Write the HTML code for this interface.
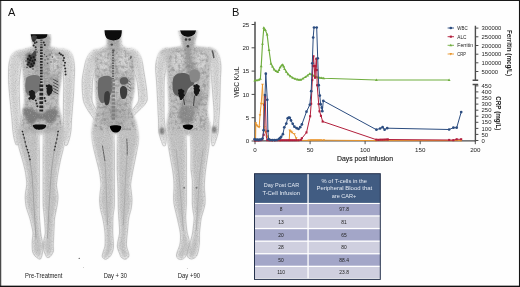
<!DOCTYPE html>
<html><head><meta charset="utf-8"><title>Figure</title>
<style>
html,body{margin:0;padding:0;background:#fff;}
body{width:520px;height:287px;overflow:hidden;font-family:"Liberation Sans",sans-serif;}
svg{display:block;}
text{font-family:"Liberation Sans",sans-serif;}
</style></head><body>
<svg width="520" height="287" viewBox="0 0 520 287">
<rect x="0" y="0" width="520" height="287" fill="#fefefe"/>
<defs>
<filter id="bl06" filterUnits="userSpaceOnUse" x="0" y="0" width="230" height="287"><feGaussianBlur stdDeviation="0.6"/></filter>
<filter id="bl1" filterUnits="userSpaceOnUse" x="0" y="0" width="230" height="287"><feGaussianBlur stdDeviation="1.0"/></filter>
<filter id="bl03" filterUnits="userSpaceOnUse" x="0" y="0" width="230" height="287"><feGaussianBlur stdDeviation="0.3"/></filter>
<filter id="bl08" filterUnits="userSpaceOnUse" x="0" y="0" width="230" height="287"><feGaussianBlur stdDeviation="0.8"/></filter>
<filter id="bl04" filterUnits="userSpaceOnUse" x="0" y="0" width="230" height="287"><feGaussianBlur stdDeviation="0.4"/></filter>
<filter id="bl2" filterUnits="userSpaceOnUse" x="0" y="0" width="230" height="287"><feGaussianBlur stdDeviation="1.8"/></filter>
<filter id="grain" x="0" y="0" width="100%" height="100%" filterUnits="objectBoundingBox">
 <feTurbulence type="fractalNoise" baseFrequency="0.85" numOctaves="2" seed="7" result="n"/>
 <feColorMatrix in="n" type="matrix" values="0 0 0 0 0.25  0 0 0 0 0.25  0 0 0 0 0.25  2.6 0 0 0 -1.15" result="dk"/>
 <feColorMatrix in="n" type="matrix" values="0 0 0 0 1  0 0 0 0 1  0 0 0 0 1  0 -2.6 0 0 1.1" result="lt"/>
 <feMerge><feMergeNode in="dk"/><feMergeNode in="lt"/></feMerge>
</filter>
<filter id="ero" filterUnits="userSpaceOnUse" x="0" y="0" width="230" height="287"><feMorphology operator="erode" radius="1.1"/><feGaussianBlur stdDeviation="0.9"/></filter>
<filter id="mott" x="0" y="0" width="100%" height="100%">
 <feTurbulence type="fractalNoise" baseFrequency="0.32" numOctaves="2" seed="11" result="n"/>
 <feColorMatrix in="n" type="matrix" values="0 0 0 0 0.2  0 0 0 0 0.2  0 0 0 0 0.2  3.2 0 0 0 -1.45"/>
</filter>
<filter id="ero2" filterUnits="userSpaceOnUse" x="0" y="0" width="230" height="287"><feMorphology operator="erode" radius="2.3"/><feGaussianBlur stdDeviation="1.3"/></filter>
<linearGradient id="lowg" gradientUnits="userSpaceOnUse" x1="0" y1="128" x2="0" y2="152"><stop offset="0" stop-color="#000"/><stop offset="1" stop-color="#fff"/></linearGradient>
<linearGradient id="armg" gradientUnits="userSpaceOnUse" x1="0" y1="52" x2="0" y2="64"><stop offset="0" stop-color="#000"/><stop offset="1" stop-color="#fff"/></linearGradient>
<mask id="armmask" maskUnits="userSpaceOnUse" x="0" y="28" width="230" height="200"><rect x="0" y="28" width="230" height="200" fill="url(#armg)"/></mask>
<mask id="lowmask" maskUnits="userSpaceOnUse" x="0" y="100" width="230" height="187"><rect x="0" y="100" width="230" height="187" fill="url(#lowg)"/></mask>
<clipPath id="cropA"><rect x="2" y="30.2" width="224" height="240"/></clipPath>
</defs>
<clipPath id="bc1"><path d="M31,28C31,29.3 30.9,33.7 31,36C31.1,38.3 31.5,40.4 31.8,42C32.1,43.6 33.2,44.6 32.6,45.5C32,46.4 29.8,46.9 28,47.5C26.2,48.1 23.9,48.6 22,49.3C20.1,50 17.8,50.4 16.5,51.5C15.2,52.6 13.9,54.1 14.5,56C15.1,57.9 18.8,60.7 20,63C21.2,65.3 21.5,67.2 22,70C22.5,72.8 22.8,76.7 23,80C23.2,83.3 23.3,86.7 23.5,90C23.7,93.3 24.1,97 24,100C23.9,103 23.3,105.3 22.7,108C22.1,110.7 21.1,113.3 20.6,116C20.1,118.7 19.4,121.7 19.5,124C19.6,126.3 20.1,128.3 21,130C21.9,131.7 24.3,133.3 25,134Q41.5,135.6 58,134C58.7,133.3 61,131.7 62,130C63,128.3 63.7,126.3 63.7,124C63.7,121.7 62.7,118.7 62,116C61.3,113.3 60.2,110.7 59.7,108C59.2,105.3 58.8,103 58.8,100C58.8,97 59.5,93.3 60,90C60.5,86.7 61.2,83.3 61.8,80C62.4,76.7 63,72.8 63.5,70C64,67.2 63.9,65.3 65,63C66.1,60.7 69.5,57.9 70,56C70.5,54.1 69.2,52.6 68,51.5C66.8,50.4 65,50 63,49.3C61,48.6 58.1,48.1 56,47.5C53.9,46.9 51.1,46.4 50.2,45.5C49.3,44.6 50.7,43.6 50.8,42C50.9,40.4 51.2,38.3 51,36C50.8,33.7 49.8,29.3 49.5,28Q40.2,26.4 31,28Z"/><path d="M17,50.5C16.4,50.8 14.3,51.6 13.3,52.5C12.3,53.4 11.5,54.4 10.8,56C10.1,57.6 9.7,59.7 9.3,62C8.9,64.3 8.7,66.5 8.6,70C8.5,73.5 8.5,78.8 8.7,83C8.9,87.2 9.2,90.5 9.6,95C10,99.5 10.6,105.8 11,110C11.4,114.2 11.7,116.7 12,120C12.3,123.3 12.5,127 12.8,130C13.1,133 13.5,135.6 14,138C14.5,140.4 15.5,143.4 15.8,144.5Q17,145.3 18.2,144.5C18.6,143.4 20.1,140.4 20.6,138C21.1,135.6 21,133 21,130C21,127 20.6,123.3 20.4,120C20.2,116.7 20.1,114.2 19.9,110C19.7,105.8 19.4,99.5 19.3,95C19.2,90.5 19.1,87.2 19.3,83C19.5,78.8 20.1,73.5 20.6,70C21.1,66.5 21.9,64.3 22.3,62C22.7,59.7 22.9,57.6 23,56C23.1,54.4 23,53.4 23,52.5C23,51.6 23,50.8 23,50.5Q20,48.9 17,50.5Z"/><path d="M60,49C60,49.3 59.9,50 60,51C60.1,52 60.2,53.2 60.5,55C60.8,56.8 61.1,59.5 61.5,62C61.9,64.5 62.6,66.5 63,70C63.4,73.5 63.6,78.8 63.7,83C63.8,87.2 63.7,90.5 63.6,95C63.5,99.5 63.4,105.8 63.4,110C63.4,114.2 63.4,116.7 63.4,120C63.4,123.3 63.6,127 63.6,130C63.6,133 63,135.5 63.2,138C63.4,140.5 64.5,143.8 64.8,145Q66,145.9 67.3,145C67.7,143.8 69,140.5 69.6,138C70.2,135.5 70.7,133 71,130C71.3,127 71.3,123.3 71.5,120C71.7,116.7 72,114.2 72.3,110C72.6,105.8 73.2,99.5 73.5,95C73.8,90.5 73.8,87.2 74,83C74.2,78.8 74.6,73.5 74.6,70C74.6,66.5 74.3,64.5 74,62C73.7,59.5 73.3,56.8 72.6,55C71.9,53.2 71.1,52 70,51C68.9,50 66.7,49.3 66,49Q63,47.4 60,49Z"/><path d="M19,122C18.5,123.3 16.1,127 15.8,130C15.5,133 16.4,136.7 17,140C17.6,143.3 18.7,146.7 19.6,150C20.5,153.3 21.6,156.7 22.5,160C23.4,163.3 24.3,166.7 25,170C25.7,173.3 26.2,177.3 26.5,180C26.8,182.7 26.8,184 26.6,186C26.5,188 25.8,190 25.6,192C25.4,194 25.1,195.7 25.2,198C25.3,200.3 25.6,203.7 26,206C26.4,208.3 27.2,210 27.8,212C28.4,214 29.2,215.8 29.8,218C30.4,220.2 31,222.5 31.5,225C32,227.5 32.9,230.5 33,233C33.1,235.5 32.4,237.8 32.3,240C32.2,242.2 32.1,244 32.2,246C32.3,248 32.2,250.3 32.7,252C33.2,253.7 34,254.9 35,256C36,257.1 38,258.3 38.6,258.8Q39.7,259.5 40.7,258.8C40.9,258.3 41.5,257.1 41.8,256C42.1,254.9 42.4,253.7 42.6,252C42.8,250.3 42.9,248 42.8,246C42.7,244 42.4,242.2 42,240C41.6,237.8 41,235.5 40.7,233C40.4,230.5 40.2,227.5 40,225C39.8,222.5 39.6,220.2 39.5,218C39.4,215.8 39.3,214 39.3,212C39.3,210 39.3,208.3 39.3,206C39.3,203.7 39.3,200.3 39.3,198C39.3,195.7 39.3,194 39.3,192C39.3,190 39.3,188 39.3,186C39.3,184 39.3,182.7 39.3,180C39.3,177.3 39.3,173.3 39.3,170C39.3,166.7 39.3,163.3 39.3,160C39.3,156.7 39.3,153.3 39.3,150C39.3,146.7 39.1,143.3 39.3,140C39.4,136.7 40.1,133 40.2,130C40.4,127 40.2,123.3 40.2,122Q29.6,120.4 19,122Z"/><path d="M42.6,122C42.6,123.3 42.5,127 42.6,130C42.7,133 43,136.7 43.1,140C43.2,143.3 43.1,146.7 43.1,150C43.1,153.3 43.1,156.7 43.1,160C43.1,163.3 43.1,166.7 43.1,170C43.1,173.3 43.1,177.3 43.1,180C43.1,182.7 43.1,184 43.1,186C43.1,188 43.1,190 43.1,192C43.1,194 43.1,195.7 43.1,198C43.1,200.3 43.1,203.7 43.2,206C43.3,208.3 43.6,210 43.8,212C44,214 44.2,215.8 44.4,218C44.6,220.2 44.8,222.5 44.9,225C45,227.5 45.5,230.5 45.3,233C45.1,235.5 44.2,237.8 43.9,240C43.6,242.2 43.4,244.2 43.4,246C43.4,247.8 43.6,249.5 44,251C44.4,252.5 45.1,253.9 45.6,255C46.1,256.1 46.6,256.9 46.8,257.3Q48,258.1 49.2,257.3C49.6,256.9 50.8,256.1 51.5,255C52.2,253.9 53.2,252.5 53.5,251C53.8,249.5 53.2,247.8 53.2,246C53.2,244.2 53.4,242.2 53.5,240C53.6,237.8 53.7,235.5 53.8,233C53.9,230.5 54.1,227.5 54.2,225C54.3,222.5 54.3,220.2 54.6,218C54.9,215.8 55.4,214 55.8,212C56.2,210 56.6,208.3 57,206C57.4,203.7 57.9,200.3 58,198C58.1,195.7 57.8,194 57.5,192C57.2,190 56.6,188 56.5,186C56.4,184 56.7,182.7 57,180C57.3,177.3 57.9,173.3 58.5,170C59.1,166.7 59.8,163.3 60.5,160C61.2,156.7 62.2,153.3 63,150C63.8,146.7 64.5,143.3 65,140C65.5,136.7 66.5,133 66.3,130C66.1,127 64.4,123.3 64,122Q53.3,120.4 42.6,122Z"/></clipPath>
<clipPath id="crop1"><rect x="0" y="34.2" width="230" height="250"/></clipPath>
<g clip-path="url(#crop1)">
<g filter="url(#bl08)"><path d="M31,28C31,29.3 30.9,33.7 31,36C31.1,38.3 31.5,40.4 31.8,42C32.1,43.6 33.2,44.6 32.6,45.5C32,46.4 29.8,46.9 28,47.5C26.2,48.1 23.9,48.6 22,49.3C20.1,50 17.8,50.4 16.5,51.5C15.2,52.6 13.9,54.1 14.5,56C15.1,57.9 18.8,60.7 20,63C21.2,65.3 21.5,67.2 22,70C22.5,72.8 22.8,76.7 23,80C23.2,83.3 23.3,86.7 23.5,90C23.7,93.3 24.1,97 24,100C23.9,103 23.3,105.3 22.7,108C22.1,110.7 21.1,113.3 20.6,116C20.1,118.7 19.4,121.7 19.5,124C19.6,126.3 20.1,128.3 21,130C21.9,131.7 24.3,133.3 25,134Q41.5,135.6 58,134C58.7,133.3 61,131.7 62,130C63,128.3 63.7,126.3 63.7,124C63.7,121.7 62.7,118.7 62,116C61.3,113.3 60.2,110.7 59.7,108C59.2,105.3 58.8,103 58.8,100C58.8,97 59.5,93.3 60,90C60.5,86.7 61.2,83.3 61.8,80C62.4,76.7 63,72.8 63.5,70C64,67.2 63.9,65.3 65,63C66.1,60.7 69.5,57.9 70,56C70.5,54.1 69.2,52.6 68,51.5C66.8,50.4 65,50 63,49.3C61,48.6 58.1,48.1 56,47.5C53.9,46.9 51.1,46.4 50.2,45.5C49.3,44.6 50.7,43.6 50.8,42C50.9,40.4 51.2,38.3 51,36C50.8,33.7 49.8,29.3 49.5,28Q40.2,26.4 31,28Z" fill="#e6e6e6" /><path d="M19,122C18.5,123.3 16.1,127 15.8,130C15.5,133 16.4,136.7 17,140C17.6,143.3 18.7,146.7 19.6,150C20.5,153.3 21.6,156.7 22.5,160C23.4,163.3 24.3,166.7 25,170C25.7,173.3 26.2,177.3 26.5,180C26.8,182.7 26.8,184 26.6,186C26.5,188 25.8,190 25.6,192C25.4,194 25.1,195.7 25.2,198C25.3,200.3 25.6,203.7 26,206C26.4,208.3 27.2,210 27.8,212C28.4,214 29.2,215.8 29.8,218C30.4,220.2 31,222.5 31.5,225C32,227.5 32.9,230.5 33,233C33.1,235.5 32.4,237.8 32.3,240C32.2,242.2 32.1,244 32.2,246C32.3,248 32.2,250.3 32.7,252C33.2,253.7 34,254.9 35,256C36,257.1 38,258.3 38.6,258.8Q39.7,259.5 40.7,258.8C40.9,258.3 41.5,257.1 41.8,256C42.1,254.9 42.4,253.7 42.6,252C42.8,250.3 42.9,248 42.8,246C42.7,244 42.4,242.2 42,240C41.6,237.8 41,235.5 40.7,233C40.4,230.5 40.2,227.5 40,225C39.8,222.5 39.6,220.2 39.5,218C39.4,215.8 39.3,214 39.3,212C39.3,210 39.3,208.3 39.3,206C39.3,203.7 39.3,200.3 39.3,198C39.3,195.7 39.3,194 39.3,192C39.3,190 39.3,188 39.3,186C39.3,184 39.3,182.7 39.3,180C39.3,177.3 39.3,173.3 39.3,170C39.3,166.7 39.3,163.3 39.3,160C39.3,156.7 39.3,153.3 39.3,150C39.3,146.7 39.1,143.3 39.3,140C39.4,136.7 40.1,133 40.2,130C40.4,127 40.2,123.3 40.2,122Q29.6,120.4 19,122Z" fill="#e6e6e6" /><path d="M42.6,122C42.6,123.3 42.5,127 42.6,130C42.7,133 43,136.7 43.1,140C43.2,143.3 43.1,146.7 43.1,150C43.1,153.3 43.1,156.7 43.1,160C43.1,163.3 43.1,166.7 43.1,170C43.1,173.3 43.1,177.3 43.1,180C43.1,182.7 43.1,184 43.1,186C43.1,188 43.1,190 43.1,192C43.1,194 43.1,195.7 43.1,198C43.1,200.3 43.1,203.7 43.2,206C43.3,208.3 43.6,210 43.8,212C44,214 44.2,215.8 44.4,218C44.6,220.2 44.8,222.5 44.9,225C45,227.5 45.5,230.5 45.3,233C45.1,235.5 44.2,237.8 43.9,240C43.6,242.2 43.4,244.2 43.4,246C43.4,247.8 43.6,249.5 44,251C44.4,252.5 45.1,253.9 45.6,255C46.1,256.1 46.6,256.9 46.8,257.3Q48,258.1 49.2,257.3C49.6,256.9 50.8,256.1 51.5,255C52.2,253.9 53.2,252.5 53.5,251C53.8,249.5 53.2,247.8 53.2,246C53.2,244.2 53.4,242.2 53.5,240C53.6,237.8 53.7,235.5 53.8,233C53.9,230.5 54.1,227.5 54.2,225C54.3,222.5 54.3,220.2 54.6,218C54.9,215.8 55.4,214 55.8,212C56.2,210 56.6,208.3 57,206C57.4,203.7 57.9,200.3 58,198C58.1,195.7 57.8,194 57.5,192C57.2,190 56.6,188 56.5,186C56.4,184 56.7,182.7 57,180C57.3,177.3 57.9,173.3 58.5,170C59.1,166.7 59.8,163.3 60.5,160C61.2,156.7 62.2,153.3 63,150C63.8,146.7 64.5,143.3 65,140C65.5,136.7 66.5,133 66.3,130C66.1,127 64.4,123.3 64,122Q53.3,120.4 42.6,122Z" fill="#e6e6e6" /></g>
<g filter="url(#bl1)"><path d="M17,50.5C16.4,50.8 14.3,51.6 13.3,52.5C12.3,53.4 11.5,54.4 10.8,56C10.1,57.6 9.7,59.7 9.3,62C8.9,64.3 8.7,66.5 8.6,70C8.5,73.5 8.5,78.8 8.7,83C8.9,87.2 9.2,90.5 9.6,95C10,99.5 10.6,105.8 11,110C11.4,114.2 11.7,116.7 12,120C12.3,123.3 12.5,127 12.8,130C13.1,133 13.5,135.6 14,138C14.5,140.4 15.5,143.4 15.8,144.5Q17,145.3 18.2,144.5C18.6,143.4 20.1,140.4 20.6,138C21.1,135.6 21,133 21,130C21,127 20.6,123.3 20.4,120C20.2,116.7 20.1,114.2 19.9,110C19.7,105.8 19.4,99.5 19.3,95C19.2,90.5 19.1,87.2 19.3,83C19.5,78.8 20.1,73.5 20.6,70C21.1,66.5 21.9,64.3 22.3,62C22.7,59.7 22.9,57.6 23,56C23.1,54.4 23,53.4 23,52.5C23,51.6 23,50.8 23,50.5Q20,48.9 17,50.5Z" fill="#e6e6e6" /><path d="M60,49C60,49.3 59.9,50 60,51C60.1,52 60.2,53.2 60.5,55C60.8,56.8 61.1,59.5 61.5,62C61.9,64.5 62.6,66.5 63,70C63.4,73.5 63.6,78.8 63.7,83C63.8,87.2 63.7,90.5 63.6,95C63.5,99.5 63.4,105.8 63.4,110C63.4,114.2 63.4,116.7 63.4,120C63.4,123.3 63.6,127 63.6,130C63.6,133 63,135.5 63.2,138C63.4,140.5 64.5,143.8 64.8,145Q66,145.9 67.3,145C67.7,143.8 69,140.5 69.6,138C70.2,135.5 70.7,133 71,130C71.3,127 71.3,123.3 71.5,120C71.7,116.7 72,114.2 72.3,110C72.6,105.8 73.2,99.5 73.5,95C73.8,90.5 73.8,87.2 74,83C74.2,78.8 74.6,73.5 74.6,70C74.6,66.5 74.3,64.5 74,62C73.7,59.5 73.3,56.8 72.6,55C71.9,53.2 71.1,52 70,51C68.9,50 66.7,49.3 66,49Q63,47.4 60,49Z" fill="#e6e6e6" /></g>
<g filter="url(#ero)"><path d="M17,50.5C16.4,50.8 14.3,51.6 13.3,52.5C12.3,53.4 11.5,54.4 10.8,56C10.1,57.6 9.7,59.7 9.3,62C8.9,64.3 8.7,66.5 8.6,70C8.5,73.5 8.5,78.8 8.7,83C8.9,87.2 9.2,90.5 9.6,95C10,99.5 10.6,105.8 11,110C11.4,114.2 11.7,116.7 12,120C12.3,123.3 12.5,127 12.8,130C13.1,133 13.5,135.6 14,138C14.5,140.4 15.5,143.4 15.8,144.5Q17,145.3 18.2,144.5C18.6,143.4 20.1,140.4 20.6,138C21.1,135.6 21,133 21,130C21,127 20.6,123.3 20.4,120C20.2,116.7 20.1,114.2 19.9,110C19.7,105.8 19.4,99.5 19.3,95C19.2,90.5 19.1,87.2 19.3,83C19.5,78.8 20.1,73.5 20.6,70C21.1,66.5 21.9,64.3 22.3,62C22.7,59.7 22.9,57.6 23,56C23.1,54.4 23,53.4 23,52.5C23,51.6 23,50.8 23,50.5Q20,48.9 17,50.5Z" fill="#dcdcdc" /><path d="M60,49C60,49.3 59.9,50 60,51C60.1,52 60.2,53.2 60.5,55C60.8,56.8 61.1,59.5 61.5,62C61.9,64.5 62.6,66.5 63,70C63.4,73.5 63.6,78.8 63.7,83C63.8,87.2 63.7,90.5 63.6,95C63.5,99.5 63.4,105.8 63.4,110C63.4,114.2 63.4,116.7 63.4,120C63.4,123.3 63.6,127 63.6,130C63.6,133 63,135.5 63.2,138C63.4,140.5 64.5,143.8 64.8,145Q66,145.9 67.3,145C67.7,143.8 69,140.5 69.6,138C70.2,135.5 70.7,133 71,130C71.3,127 71.3,123.3 71.5,120C71.7,116.7 72,114.2 72.3,110C72.6,105.8 73.2,99.5 73.5,95C73.8,90.5 73.8,87.2 74,83C74.2,78.8 74.6,73.5 74.6,70C74.6,66.5 74.3,64.5 74,62C73.7,59.5 73.3,56.8 72.6,55C71.9,53.2 71.1,52 70,51C68.9,50 66.7,49.3 66,49Q63,47.4 60,49Z" fill="#dcdcdc" /></g>
<g filter="url(#ero2)"><path d="M17,50.5C16.4,50.8 14.3,51.6 13.3,52.5C12.3,53.4 11.5,54.4 10.8,56C10.1,57.6 9.7,59.7 9.3,62C8.9,64.3 8.7,66.5 8.6,70C8.5,73.5 8.5,78.8 8.7,83C8.9,87.2 9.2,90.5 9.6,95C10,99.5 10.6,105.8 11,110C11.4,114.2 11.7,116.7 12,120C12.3,123.3 12.5,127 12.8,130C13.1,133 13.5,135.6 14,138C14.5,140.4 15.5,143.4 15.8,144.5Q17,145.3 18.2,144.5C18.6,143.4 20.1,140.4 20.6,138C21.1,135.6 21,133 21,130C21,127 20.6,123.3 20.4,120C20.2,116.7 20.1,114.2 19.9,110C19.7,105.8 19.4,99.5 19.3,95C19.2,90.5 19.1,87.2 19.3,83C19.5,78.8 20.1,73.5 20.6,70C21.1,66.5 21.9,64.3 22.3,62C22.7,59.7 22.9,57.6 23,56C23.1,54.4 23,53.4 23,52.5C23,51.6 23,50.8 23,50.5Q20,48.9 17,50.5Z" fill="#d2d2d2" /><path d="M60,49C60,49.3 59.9,50 60,51C60.1,52 60.2,53.2 60.5,55C60.8,56.8 61.1,59.5 61.5,62C61.9,64.5 62.6,66.5 63,70C63.4,73.5 63.6,78.8 63.7,83C63.8,87.2 63.7,90.5 63.6,95C63.5,99.5 63.4,105.8 63.4,110C63.4,114.2 63.4,116.7 63.4,120C63.4,123.3 63.6,127 63.6,130C63.6,133 63,135.5 63.2,138C63.4,140.5 64.5,143.8 64.8,145Q66,145.9 67.3,145C67.7,143.8 69,140.5 69.6,138C70.2,135.5 70.7,133 71,130C71.3,127 71.3,123.3 71.5,120C71.7,116.7 72,114.2 72.3,110C72.6,105.8 73.2,99.5 73.5,95C73.8,90.5 73.8,87.2 74,83C74.2,78.8 74.6,73.5 74.6,70C74.6,66.5 74.3,64.5 74,62C73.7,59.5 73.3,56.8 72.6,55C71.9,53.2 71.1,52 70,51C68.9,50 66.7,49.3 66,49Q63,47.4 60,49Z" fill="#d2d2d2" /></g>
<g mask="url(#armmask)"><g filter="url(#bl06)" fill="none" stroke="#bcbcbc" stroke-width="0.8"><path d="M17,50.5C16.4,50.8 14.3,51.6 13.3,52.5C12.3,53.4 11.5,54.4 10.8,56C10.1,57.6 9.7,59.7 9.3,62C8.9,64.3 8.7,66.5 8.6,70C8.5,73.5 8.5,78.8 8.7,83C8.9,87.2 9.2,90.5 9.6,95C10,99.5 10.6,105.8 11,110C11.4,114.2 11.7,116.7 12,120C12.3,123.3 12.5,127 12.8,130C13.1,133 13.5,135.6 14,138C14.5,140.4 15.5,143.4 15.8,144.5Q17,145.3 18.2,144.5C18.6,143.4 20.1,140.4 20.6,138C21.1,135.6 21,133 21,130C21,127 20.6,123.3 20.4,120C20.2,116.7 20.1,114.2 19.9,110C19.7,105.8 19.4,99.5 19.3,95C19.2,90.5 19.1,87.2 19.3,83C19.5,78.8 20.1,73.5 20.6,70C21.1,66.5 21.9,64.3 22.3,62C22.7,59.7 22.9,57.6 23,56C23.1,54.4 23,53.4 23,52.5C23,51.6 23,50.8 23,50.5Q20,48.9 17,50.5Z"/><path d="M60,49C60,49.3 59.9,50 60,51C60.1,52 60.2,53.2 60.5,55C60.8,56.8 61.1,59.5 61.5,62C61.9,64.5 62.6,66.5 63,70C63.4,73.5 63.6,78.8 63.7,83C63.8,87.2 63.7,90.5 63.6,95C63.5,99.5 63.4,105.8 63.4,110C63.4,114.2 63.4,116.7 63.4,120C63.4,123.3 63.6,127 63.6,130C63.6,133 63,135.5 63.2,138C63.4,140.5 64.5,143.8 64.8,145Q66,145.9 67.3,145C67.7,143.8 69,140.5 69.6,138C70.2,135.5 70.7,133 71,130C71.3,127 71.3,123.3 71.5,120C71.7,116.7 72,114.2 72.3,110C72.6,105.8 73.2,99.5 73.5,95C73.8,90.5 73.8,87.2 74,83C74.2,78.8 74.6,73.5 74.6,70C74.6,66.5 74.3,64.5 74,62C73.7,59.5 73.3,56.8 72.6,55C71.9,53.2 71.1,52 70,51C68.9,50 66.7,49.3 66,49Q63,47.4 60,49Z"/></g></g>
<g filter="url(#ero)"><path d="M31,28C31,29.3 30.9,33.7 31,36C31.1,38.3 31.5,40.4 31.8,42C32.1,43.6 33.2,44.6 32.6,45.5C32,46.4 29.8,46.9 28,47.5C26.2,48.1 23.9,48.6 22,49.3C20.1,50 17.8,50.4 16.5,51.5C15.2,52.6 13.9,54.1 14.5,56C15.1,57.9 18.8,60.7 20,63C21.2,65.3 21.5,67.2 22,70C22.5,72.8 22.8,76.7 23,80C23.2,83.3 23.3,86.7 23.5,90C23.7,93.3 24.1,97 24,100C23.9,103 23.3,105.3 22.7,108C22.1,110.7 21.1,113.3 20.6,116C20.1,118.7 19.4,121.7 19.5,124C19.6,126.3 20.1,128.3 21,130C21.9,131.7 24.3,133.3 25,134Q41.5,135.6 58,134C58.7,133.3 61,131.7 62,130C63,128.3 63.7,126.3 63.7,124C63.7,121.7 62.7,118.7 62,116C61.3,113.3 60.2,110.7 59.7,108C59.2,105.3 58.8,103 58.8,100C58.8,97 59.5,93.3 60,90C60.5,86.7 61.2,83.3 61.8,80C62.4,76.7 63,72.8 63.5,70C64,67.2 63.9,65.3 65,63C66.1,60.7 69.5,57.9 70,56C70.5,54.1 69.2,52.6 68,51.5C66.8,50.4 65,50 63,49.3C61,48.6 58.1,48.1 56,47.5C53.9,46.9 51.1,46.4 50.2,45.5C49.3,44.6 50.7,43.6 50.8,42C50.9,40.4 51.2,38.3 51,36C50.8,33.7 49.8,29.3 49.5,28Q40.2,26.4 31,28Z" fill="#d2d2d2" /><path d="M19,122C18.5,123.3 16.1,127 15.8,130C15.5,133 16.4,136.7 17,140C17.6,143.3 18.7,146.7 19.6,150C20.5,153.3 21.6,156.7 22.5,160C23.4,163.3 24.3,166.7 25,170C25.7,173.3 26.2,177.3 26.5,180C26.8,182.7 26.8,184 26.6,186C26.5,188 25.8,190 25.6,192C25.4,194 25.1,195.7 25.2,198C25.3,200.3 25.6,203.7 26,206C26.4,208.3 27.2,210 27.8,212C28.4,214 29.2,215.8 29.8,218C30.4,220.2 31,222.5 31.5,225C32,227.5 32.9,230.5 33,233C33.1,235.5 32.4,237.8 32.3,240C32.2,242.2 32.1,244 32.2,246C32.3,248 32.2,250.3 32.7,252C33.2,253.7 34,254.9 35,256C36,257.1 38,258.3 38.6,258.8Q39.7,259.5 40.7,258.8C40.9,258.3 41.5,257.1 41.8,256C42.1,254.9 42.4,253.7 42.6,252C42.8,250.3 42.9,248 42.8,246C42.7,244 42.4,242.2 42,240C41.6,237.8 41,235.5 40.7,233C40.4,230.5 40.2,227.5 40,225C39.8,222.5 39.6,220.2 39.5,218C39.4,215.8 39.3,214 39.3,212C39.3,210 39.3,208.3 39.3,206C39.3,203.7 39.3,200.3 39.3,198C39.3,195.7 39.3,194 39.3,192C39.3,190 39.3,188 39.3,186C39.3,184 39.3,182.7 39.3,180C39.3,177.3 39.3,173.3 39.3,170C39.3,166.7 39.3,163.3 39.3,160C39.3,156.7 39.3,153.3 39.3,150C39.3,146.7 39.1,143.3 39.3,140C39.4,136.7 40.1,133 40.2,130C40.4,127 40.2,123.3 40.2,122Q29.6,120.4 19,122Z" fill="#d2d2d2" /><path d="M42.6,122C42.6,123.3 42.5,127 42.6,130C42.7,133 43,136.7 43.1,140C43.2,143.3 43.1,146.7 43.1,150C43.1,153.3 43.1,156.7 43.1,160C43.1,163.3 43.1,166.7 43.1,170C43.1,173.3 43.1,177.3 43.1,180C43.1,182.7 43.1,184 43.1,186C43.1,188 43.1,190 43.1,192C43.1,194 43.1,195.7 43.1,198C43.1,200.3 43.1,203.7 43.2,206C43.3,208.3 43.6,210 43.8,212C44,214 44.2,215.8 44.4,218C44.6,220.2 44.8,222.5 44.9,225C45,227.5 45.5,230.5 45.3,233C45.1,235.5 44.2,237.8 43.9,240C43.6,242.2 43.4,244.2 43.4,246C43.4,247.8 43.6,249.5 44,251C44.4,252.5 45.1,253.9 45.6,255C46.1,256.1 46.6,256.9 46.8,257.3Q48,258.1 49.2,257.3C49.6,256.9 50.8,256.1 51.5,255C52.2,253.9 53.2,252.5 53.5,251C53.8,249.5 53.2,247.8 53.2,246C53.2,244.2 53.4,242.2 53.5,240C53.6,237.8 53.7,235.5 53.8,233C53.9,230.5 54.1,227.5 54.2,225C54.3,222.5 54.3,220.2 54.6,218C54.9,215.8 55.4,214 55.8,212C56.2,210 56.6,208.3 57,206C57.4,203.7 57.9,200.3 58,198C58.1,195.7 57.8,194 57.5,192C57.2,190 56.6,188 56.5,186C56.4,184 56.7,182.7 57,180C57.3,177.3 57.9,173.3 58.5,170C59.1,166.7 59.8,163.3 60.5,160C61.2,156.7 62.2,153.3 63,150C63.8,146.7 64.5,143.3 65,140C65.5,136.7 66.5,133 66.3,130C66.1,127 64.4,123.3 64,122Q53.3,120.4 42.6,122Z" fill="#d2d2d2" /></g>
<g filter="url(#ero2)"><path d="M31,28C31,29.3 30.9,33.7 31,36C31.1,38.3 31.5,40.4 31.8,42C32.1,43.6 33.2,44.6 32.6,45.5C32,46.4 29.8,46.9 28,47.5C26.2,48.1 23.9,48.6 22,49.3C20.1,50 17.8,50.4 16.5,51.5C15.2,52.6 13.9,54.1 14.5,56C15.1,57.9 18.8,60.7 20,63C21.2,65.3 21.5,67.2 22,70C22.5,72.8 22.8,76.7 23,80C23.2,83.3 23.3,86.7 23.5,90C23.7,93.3 24.1,97 24,100C23.9,103 23.3,105.3 22.7,108C22.1,110.7 21.1,113.3 20.6,116C20.1,118.7 19.4,121.7 19.5,124C19.6,126.3 20.1,128.3 21,130C21.9,131.7 24.3,133.3 25,134Q41.5,135.6 58,134C58.7,133.3 61,131.7 62,130C63,128.3 63.7,126.3 63.7,124C63.7,121.7 62.7,118.7 62,116C61.3,113.3 60.2,110.7 59.7,108C59.2,105.3 58.8,103 58.8,100C58.8,97 59.5,93.3 60,90C60.5,86.7 61.2,83.3 61.8,80C62.4,76.7 63,72.8 63.5,70C64,67.2 63.9,65.3 65,63C66.1,60.7 69.5,57.9 70,56C70.5,54.1 69.2,52.6 68,51.5C66.8,50.4 65,50 63,49.3C61,48.6 58.1,48.1 56,47.5C53.9,46.9 51.1,46.4 50.2,45.5C49.3,44.6 50.7,43.6 50.8,42C50.9,40.4 51.2,38.3 51,36C50.8,33.7 49.8,29.3 49.5,28Q40.2,26.4 31,28Z" fill="#c3c3c3" /><path d="M19,122C18.5,123.3 16.1,127 15.8,130C15.5,133 16.4,136.7 17,140C17.6,143.3 18.7,146.7 19.6,150C20.5,153.3 21.6,156.7 22.5,160C23.4,163.3 24.3,166.7 25,170C25.7,173.3 26.2,177.3 26.5,180C26.8,182.7 26.8,184 26.6,186C26.5,188 25.8,190 25.6,192C25.4,194 25.1,195.7 25.2,198C25.3,200.3 25.6,203.7 26,206C26.4,208.3 27.2,210 27.8,212C28.4,214 29.2,215.8 29.8,218C30.4,220.2 31,222.5 31.5,225C32,227.5 32.9,230.5 33,233C33.1,235.5 32.4,237.8 32.3,240C32.2,242.2 32.1,244 32.2,246C32.3,248 32.2,250.3 32.7,252C33.2,253.7 34,254.9 35,256C36,257.1 38,258.3 38.6,258.8Q39.7,259.5 40.7,258.8C40.9,258.3 41.5,257.1 41.8,256C42.1,254.9 42.4,253.7 42.6,252C42.8,250.3 42.9,248 42.8,246C42.7,244 42.4,242.2 42,240C41.6,237.8 41,235.5 40.7,233C40.4,230.5 40.2,227.5 40,225C39.8,222.5 39.6,220.2 39.5,218C39.4,215.8 39.3,214 39.3,212C39.3,210 39.3,208.3 39.3,206C39.3,203.7 39.3,200.3 39.3,198C39.3,195.7 39.3,194 39.3,192C39.3,190 39.3,188 39.3,186C39.3,184 39.3,182.7 39.3,180C39.3,177.3 39.3,173.3 39.3,170C39.3,166.7 39.3,163.3 39.3,160C39.3,156.7 39.3,153.3 39.3,150C39.3,146.7 39.1,143.3 39.3,140C39.4,136.7 40.1,133 40.2,130C40.4,127 40.2,123.3 40.2,122Q29.6,120.4 19,122Z" fill="#c3c3c3" /><path d="M42.6,122C42.6,123.3 42.5,127 42.6,130C42.7,133 43,136.7 43.1,140C43.2,143.3 43.1,146.7 43.1,150C43.1,153.3 43.1,156.7 43.1,160C43.1,163.3 43.1,166.7 43.1,170C43.1,173.3 43.1,177.3 43.1,180C43.1,182.7 43.1,184 43.1,186C43.1,188 43.1,190 43.1,192C43.1,194 43.1,195.7 43.1,198C43.1,200.3 43.1,203.7 43.2,206C43.3,208.3 43.6,210 43.8,212C44,214 44.2,215.8 44.4,218C44.6,220.2 44.8,222.5 44.9,225C45,227.5 45.5,230.5 45.3,233C45.1,235.5 44.2,237.8 43.9,240C43.6,242.2 43.4,244.2 43.4,246C43.4,247.8 43.6,249.5 44,251C44.4,252.5 45.1,253.9 45.6,255C46.1,256.1 46.6,256.9 46.8,257.3Q48,258.1 49.2,257.3C49.6,256.9 50.8,256.1 51.5,255C52.2,253.9 53.2,252.5 53.5,251C53.8,249.5 53.2,247.8 53.2,246C53.2,244.2 53.4,242.2 53.5,240C53.6,237.8 53.7,235.5 53.8,233C53.9,230.5 54.1,227.5 54.2,225C54.3,222.5 54.3,220.2 54.6,218C54.9,215.8 55.4,214 55.8,212C56.2,210 56.6,208.3 57,206C57.4,203.7 57.9,200.3 58,198C58.1,195.7 57.8,194 57.5,192C57.2,190 56.6,188 56.5,186C56.4,184 56.7,182.7 57,180C57.3,177.3 57.9,173.3 58.5,170C59.1,166.7 59.8,163.3 60.5,160C61.2,156.7 62.2,153.3 63,150C63.8,146.7 64.5,143.3 65,140C65.5,136.7 66.5,133 66.3,130C66.1,127 64.4,123.3 64,122Q53.3,120.4 42.6,122Z" fill="#c3c3c3" /></g>
<g mask="url(#lowmask)"><g filter="url(#bl04)" fill="none" stroke="#b4b4b4" stroke-width="0.7"><path d="M19,122C18.5,123.3 16.1,127 15.8,130C15.5,133 16.4,136.7 17,140C17.6,143.3 18.7,146.7 19.6,150C20.5,153.3 21.6,156.7 22.5,160C23.4,163.3 24.3,166.7 25,170C25.7,173.3 26.2,177.3 26.5,180C26.8,182.7 26.8,184 26.6,186C26.5,188 25.8,190 25.6,192C25.4,194 25.1,195.7 25.2,198C25.3,200.3 25.6,203.7 26,206C26.4,208.3 27.2,210 27.8,212C28.4,214 29.2,215.8 29.8,218C30.4,220.2 31,222.5 31.5,225C32,227.5 32.9,230.5 33,233C33.1,235.5 32.4,237.8 32.3,240C32.2,242.2 32.1,244 32.2,246C32.3,248 32.2,250.3 32.7,252C33.2,253.7 34,254.9 35,256C36,257.1 38,258.3 38.6,258.8Q39.7,259.5 40.7,258.8C40.9,258.3 41.5,257.1 41.8,256C42.1,254.9 42.4,253.7 42.6,252C42.8,250.3 42.9,248 42.8,246C42.7,244 42.4,242.2 42,240C41.6,237.8 41,235.5 40.7,233C40.4,230.5 40.2,227.5 40,225C39.8,222.5 39.6,220.2 39.5,218C39.4,215.8 39.3,214 39.3,212C39.3,210 39.3,208.3 39.3,206C39.3,203.7 39.3,200.3 39.3,198C39.3,195.7 39.3,194 39.3,192C39.3,190 39.3,188 39.3,186C39.3,184 39.3,182.7 39.3,180C39.3,177.3 39.3,173.3 39.3,170C39.3,166.7 39.3,163.3 39.3,160C39.3,156.7 39.3,153.3 39.3,150C39.3,146.7 39.1,143.3 39.3,140C39.4,136.7 40.1,133 40.2,130C40.4,127 40.2,123.3 40.2,122Q29.6,120.4 19,122Z"/><path d="M42.6,122C42.6,123.3 42.5,127 42.6,130C42.7,133 43,136.7 43.1,140C43.2,143.3 43.1,146.7 43.1,150C43.1,153.3 43.1,156.7 43.1,160C43.1,163.3 43.1,166.7 43.1,170C43.1,173.3 43.1,177.3 43.1,180C43.1,182.7 43.1,184 43.1,186C43.1,188 43.1,190 43.1,192C43.1,194 43.1,195.7 43.1,198C43.1,200.3 43.1,203.7 43.2,206C43.3,208.3 43.6,210 43.8,212C44,214 44.2,215.8 44.4,218C44.6,220.2 44.8,222.5 44.9,225C45,227.5 45.5,230.5 45.3,233C45.1,235.5 44.2,237.8 43.9,240C43.6,242.2 43.4,244.2 43.4,246C43.4,247.8 43.6,249.5 44,251C44.4,252.5 45.1,253.9 45.6,255C46.1,256.1 46.6,256.9 46.8,257.3Q48,258.1 49.2,257.3C49.6,256.9 50.8,256.1 51.5,255C52.2,253.9 53.2,252.5 53.5,251C53.8,249.5 53.2,247.8 53.2,246C53.2,244.2 53.4,242.2 53.5,240C53.6,237.8 53.7,235.5 53.8,233C53.9,230.5 54.1,227.5 54.2,225C54.3,222.5 54.3,220.2 54.6,218C54.9,215.8 55.4,214 55.8,212C56.2,210 56.6,208.3 57,206C57.4,203.7 57.9,200.3 58,198C58.1,195.7 57.8,194 57.5,192C57.2,190 56.6,188 56.5,186C56.4,184 56.7,182.7 57,180C57.3,177.3 57.9,173.3 58.5,170C59.1,166.7 59.8,163.3 60.5,160C61.2,156.7 62.2,153.3 63,150C63.8,146.7 64.5,143.3 65,140C65.5,136.7 66.5,133 66.3,130C66.1,127 64.4,123.3 64,122Q53.3,120.4 42.6,122Z"/></g></g>
<g filter="url(#bl1)"><path d="M30,50C29,51 25.1,53.3 24,56C22.9,58.7 23.4,62 23.5,66C23.6,70 24.2,75.2 24.5,80C24.8,84.8 24.9,90.7 25,95C25.1,99.3 25.3,102.5 25,106C24.7,109.5 23.3,113 23,116C22.7,119 22.3,121.5 23,124C23.7,126.5 26.3,129.8 27,131Q41.5,132.6 56,131C56.7,129.8 59.3,126.5 60,124C60.7,121.5 60.3,119 60,116C59.7,113 58.2,109.5 58,106C57.8,102.5 58.1,99.3 58.5,95C58.9,90.7 59.9,84.8 60.5,80C61.1,75.2 61.9,70 62,66C62.1,62 62.3,58.7 61,56C59.7,53.3 55.2,51 54,50Q42,48.4 30,50Z" fill="#bebebe" /><path d="M34,49C33.8,50.2 33,53.2 33,56C33,58.8 33.5,62.8 34,66C34.5,69.2 35.7,73.5 36,75Q42,76.6 48,75C48.5,73.5 50.5,69.2 51,66C51.5,62.8 51.3,58.8 51,56C50.7,53.2 49.3,50.2 49,49Q41.5,47.4 34,49Z" fill="#acacac" /><ellipse cx="30.8" cy="60" rx="4.2" ry="7.2" fill="#4c4c4c" transform="rotate(-15 30.8 60)"/><ellipse cx="54.5" cy="63" rx="4.5" ry="9" fill="#d0d0d0"/><path d="M32,36C32.1,37 32.3,40.1 32.6,42C32.9,43.9 33.8,46.6 34,47.5Q41.8,49.1 49.6,47.5C49.7,46.6 50.1,43.9 50.2,42C50.3,40.1 50,37 50,36Q41,34.4 32,36Z" fill="#a9a9a9" /><path d="M43,75C43,75.8 42.8,77.8 43,80C43.2,82.2 43.5,85.7 44,88C44.5,90.3 45.7,93 46,94Q51,95.6 56,94C56.3,93 57.7,90.3 58,88C58.3,85.7 58.5,82.2 58,80C57.5,77.8 55.5,75.8 55,75Q49,73.4 43,75Z" fill="#aaaaaa" /><path d="M23,109.5C23.5,107.9 26.2,107.6 28,107.6C29.8,107.6 32.3,108.8 34,109.6C35.7,110.4 36.8,111.8 38,112.5C39.2,113.2 40,113.4 41,113.5C42,113.6 43,113.6 44,113C45,112.4 45.5,110.7 47,110C48.5,109.3 51.2,108.4 53,108.6C54.8,108.8 57.3,109.7 58,111C58.7,112.3 57.6,114.8 57,116.5C56.4,118.2 55.5,119.8 54.5,121C53.5,122.2 52.2,123.8 51,124C49.8,124.2 48.2,123.3 47,122.5C45.8,121.7 45,119.3 44,119C43,118.7 42,120.5 41,120.5C40,120.5 39,118.7 38,119C37,119.3 36.2,121.6 35,122.5C33.8,123.4 32.2,124.7 31,124.6C29.8,124.5 28.5,123.3 27.5,122C26.5,120.7 25.8,119.1 25,117C24.2,114.9 22.5,111.1 23,109.5Z" fill="#7c7c7c" /><path d="M29,126.5C29.8,125.5 32.6,124.8 34,125C35.4,125.2 37,126.8 37.5,128C38,129.2 37.8,131.1 37,132C36.2,132.9 34.2,133.7 33,133.5C31.8,133.3 30.2,132.2 29.5,131C28.8,129.8 28.2,127.5 29,126.5Z" fill="#b0b0b0" /><path d="M53,126.5C52.2,125.5 49.4,124.8 48,125C46.6,125.2 45,126.8 44.5,128C44,129.2 44.2,131.1 45,132C45.8,132.9 47.8,133.7 49,133.5C50.2,133.3 51.8,132.2 52.5,131C53.2,129.8 53.8,127.5 53,126.5Z" fill="#b0b0b0" /><ellipse cx="26.5" cy="130" rx="3" ry="3" fill="#b2b2b2"/><ellipse cx="56" cy="130" rx="3" ry="3" fill="#b2b2b2"/></g>
<clipPath id="core1"><path d="M30,50C29,51 25.1,53.3 24,56C22.9,58.7 23.4,62 23.5,66C23.6,70 24.2,75.2 24.5,80C24.8,84.8 24.9,90.7 25,95C25.1,99.3 25.3,102.5 25,106C24.7,109.5 23.7,112.3 23,116C22.3,119.7 21.3,126 21,128Q41.5,129.6 62,128C61.7,126 60.7,119.7 60,116C59.3,112.3 58.2,109.5 58,106C57.8,102.5 58.1,99.3 58.5,95C58.9,90.7 59.9,84.8 60.5,80C61.1,75.2 61.9,70 62,66C62.1,62 62.3,58.7 61,56C59.7,53.3 55.2,51 54,50Q42,48.4 30,50Z"/></clipPath>
<g clip-path="url(#core1)" opacity="0.5" filter="url(#bl06)"><rect x="0" y="28" width="230" height="120" filter="url(#mott)"/></g>
<g clip-path="url(#bc1)" opacity="0.3"><rect x="0" y="28" width="230" height="235" filter="url(#grain)"/></g>
<g filter="url(#bl04)"><path d="M30.6,30C30.6,30.7 30.7,34.1 30.8,35C30.9,35.9 31,36.6 31.4,37C31.8,37.4 33.2,38 33.5,38.2Q39,39.8 44.5,38.2C44.8,38 46.2,37.4 46.6,37C47,36.6 47.2,35.9 47.3,35C47.4,34.1 47.4,30.7 47.4,30Q39,28.4 30.6,30Z" fill="#0a0a0a" /><path d="M31.2,36C31.3,36.4 31.4,38.3 31.6,39C31.8,39.7 32.4,41.2 32.5,41.5Q33.8,42.4 35,41.5C35.2,41.2 36.1,39.7 36.4,39C36.7,38.3 36.9,36.4 37,36Q34.1,34.4 31.2,36Z" fill="#3c3c3c" /><path d="M25.5,82C25.8,80 25.9,78.3 27,77.2C28.1,76.1 30.2,75.5 32,75.2C33.8,74.9 36.6,75 38,75.6C39.4,76.1 39.8,76.4 40.2,78.5C40.6,80.6 40.8,85.6 40.2,88C39.6,90.4 38,91.7 36.5,93C35,94.3 32.6,95.4 31,95.6C29.4,95.8 27.9,95.1 27,94C26.1,92.9 25.6,91 25.4,89C25.1,87 25.2,84 25.5,82Z" fill="#737373" /><g fill="#2a2a2a"><circle cx="33.8" cy="40.5" r="1.0"/><circle cx="34.8" cy="43" r="1.0"/><circle cx="33.6" cy="45.6" r="1.0"/><circle cx="36.5" cy="42.2" r="1.0"/><circle cx="35.6" cy="47.2" r="1.0"/><circle cx="43.8" cy="42.5" r="1.0"/><circle cx="44.8" cy="45" r="1.0"/></g><path d="M35.3,50.5C35.8,50.8 36.2,52.4 36.3,53.5C36.3,54.6 35.8,55.8 35.6,57C35.4,58.2 35.4,59.7 35.2,61C35,62.3 34.8,63.9 34.2,65C33.6,66.1 32.5,67.2 31.6,67.4C30.7,67.6 29.3,67.1 28.6,66.4C27.9,65.7 27.4,64.2 27.2,63C27,61.8 27.3,60.1 27.6,59C27.9,57.9 28.5,57.1 29.2,56.4C29.9,55.7 30.9,55.3 31.6,54.6C32.3,53.9 32.8,52.7 33.4,52C34,51.3 34.8,50.2 35.3,50.5Z" fill="#474747" /><g fill="#1f1f1f"><circle cx="29.6" cy="56" r="1.15"/><circle cx="31" cy="58" r="1.15"/><circle cx="30" cy="60.2" r="1.15"/><circle cx="32.6" cy="61" r="1.15"/><circle cx="29" cy="62.6" r="1.15"/><circle cx="31.4" cy="64.2" r="1.15"/><circle cx="33.6" cy="57.2" r="1.15"/><circle cx="34" cy="63.2" r="1.15"/><circle cx="28" cy="59" r="1.15"/><circle cx="32.6" cy="66" r="1.15"/><circle cx="30.3" cy="66.8" r="1.15"/><circle cx="27.6" cy="64.6" r="1.15"/><circle cx="35" cy="59.8" r="1.15"/></g><g fill="#444"><circle cx="26" cy="61" r="0.8"/><circle cx="27" cy="67.5" r="0.8"/><circle cx="33" cy="69" r="0.8"/><circle cx="35.8" cy="55.2" r="0.8"/><circle cx="37" cy="52" r="0.8"/><circle cx="36" cy="49.5" r="0.8"/></g><g fill="#2a2a2a"><circle cx="62.8" cy="55.6" r="1.0"/><circle cx="64" cy="58" r="1.0"/><circle cx="63.4" cy="60.6" r="1.0"/><circle cx="65" cy="62.8" r="1.0"/><circle cx="64.4" cy="65.6" r="1.0"/><circle cx="65.2" cy="68.6" r="1.0"/><circle cx="65.4" cy="71.6" r="1.0"/><circle cx="65.6" cy="74.6" r="1.0"/><circle cx="61" cy="54.5" r="1.0"/><circle cx="59.5" cy="53.3" r="1.0"/></g><g fill="#555"><circle cx="44.5" cy="54.5" r="0.7"/><circle cx="46.4" cy="56.5" r="0.7"/><circle cx="48" cy="59" r="0.7"/><circle cx="45" cy="60" r="0.7"/><circle cx="50" cy="55" r="0.7"/><circle cx="52.5" cy="57" r="0.7"/><circle cx="47.5" cy="63.5" r="0.7"/><circle cx="51" cy="62" r="0.7"/></g><ellipse cx="32.4" cy="95" rx="2.8" ry="4.8" fill="#222" transform="rotate(-10 32.4 95)"/><ellipse cx="49.6" cy="90" rx="2.8" ry="4.8" fill="#222" transform="rotate(10 49.6 90)"/><g fill="#1c1c1c"><circle cx="30" cy="92" r="1.25"/><circle cx="31.8" cy="91.2" r="1.25"/><circle cx="33.6" cy="92.4" r="1.25"/><circle cx="30.6" cy="94.4" r="1.25"/><circle cx="32.6" cy="95" r="1.25"/><circle cx="34.2" cy="96.2" r="1.25"/><circle cx="31" cy="97.2" r="1.25"/><circle cx="33" cy="98.4" r="1.25"/><circle cx="29.6" cy="98.6" r="1.25"/></g><g fill="#1c1c1c"><circle cx="47" cy="86" r="1.25"/><circle cx="49" cy="85.6" r="1.25"/><circle cx="50.8" cy="86.8" r="1.25"/><circle cx="47.6" cy="88.6" r="1.25"/><circle cx="49.6" cy="89.4" r="1.25"/><circle cx="51.4" cy="90.2" r="1.25"/><circle cx="48.2" cy="91.6" r="1.25"/><circle cx="50.2" cy="92.8" r="1.25"/><circle cx="48.8" cy="94.6" r="1.25"/></g><g fill="#222"><circle cx="35.8" cy="100.6" r="1.0"/><circle cx="36.6" cy="103.4" r="1.0"/><circle cx="37.4" cy="106.2" r="1.0"/><circle cx="44.6" cy="98" r="1.0"/><circle cx="45.4" cy="101" r="1.0"/></g><path d="M53.6,79.5L58,81.9" stroke="#444" stroke-width="0.9" fill="none" stroke-linecap="round" stroke-linejoin="round" /><path d="M53.6,82.5L58,84.9" stroke="#444" stroke-width="0.9" fill="none" stroke-linecap="round" stroke-linejoin="round" /><path d="M53.6,85.5L58,87.9" stroke="#444" stroke-width="0.9" fill="none" stroke-linecap="round" stroke-linejoin="round" /><path d="M53.6,88.5L58,90.9" stroke="#444" stroke-width="0.9" fill="none" stroke-linecap="round" stroke-linejoin="round" /><path d="M53.6,91.5L58,93.9" stroke="#444" stroke-width="0.9" fill="none" stroke-linecap="round" stroke-linejoin="round" /><path d="M33.2,125C34.2,124.5 37.4,124.4 39.5,124.4C41.6,124.4 44.9,124.4 45.8,125C46.7,125.6 45.8,127.2 45,128C44.2,128.8 42.5,129.4 41,129.6C39.5,129.8 37.2,129.5 36,129.2C34.8,128.9 34.3,128.3 33.8,127.6C33.3,126.9 32.2,125.5 33.2,125Z" fill="#0a0a0a" /><path d="M22.3,131L24,137L26,146L28.6,155L30,161" stroke="#5a5a5a" stroke-width="0.6" fill="none" stroke-linecap="round" stroke-linejoin="round" /><path d="M58.2,131L57,138L55.4,145L54.2,150.5" stroke="#5a5a5a" stroke-width="0.6" fill="none" stroke-linecap="round" stroke-linejoin="round" /><g fill="#262626"><circle cx="22.5" cy="131.5" r="0.8"/><circle cx="23.3" cy="134.6" r="0.8"/><circle cx="24.2" cy="138" r="0.8"/><circle cx="25.2" cy="142" r="0.8"/><circle cx="26.3" cy="146.4" r="0.8"/><circle cx="27.4" cy="149.8" r="0.8"/><circle cx="28.5" cy="152.6" r="0.8"/><circle cx="29.3" cy="156" r="0.8"/><circle cx="30" cy="159.4" r="0.8"/></g><g fill="#262626"><circle cx="58.1" cy="131.5" r="0.8"/><circle cx="57.6" cy="135" r="0.8"/><circle cx="56.9" cy="139" r="0.8"/><circle cx="56" cy="143" r="0.8"/><circle cx="55.2" cy="146.6" r="0.8"/><circle cx="54.5" cy="150" r="0.8"/></g><path d="M30,161L32,175L33,190L34.5,215L36,238" stroke="#9a9a9a" stroke-width="0.8" fill="none" stroke-linecap="round" stroke-linejoin="round" /><path d="M54,151L51.5,170L50,190L48.6,215L47.5,238" stroke="#9a9a9a" stroke-width="0.8" fill="none" stroke-linecap="round" stroke-linejoin="round" /></g>
<g filter="url(#bl03)"><path d="M41.4,46.5L41.3,84" stroke="#262626" stroke-width="2.6" fill="none" stroke-linejoin="round" stroke-dasharray="1.7 1.2" stroke-linecap="butt"/><path d="M41.3,84.4L41.3,111.5" stroke="#262626" stroke-width="3.8" fill="none" stroke-linejoin="round" stroke-dasharray="2.7 1.5" stroke-linecap="butt"/><path d="M41.4,39.5L41.4,46.5" stroke="#555" stroke-width="2.2" fill="none" stroke-linejoin="round" stroke-dasharray="1.4 0.9" stroke-linecap="butt"/></g>
</g>
<clipPath id="bc2"><path d="M104.3,24C104.3,25.3 104.3,29.8 104.6,32C104.9,34.2 105.7,35.5 106,37C106.3,38.5 106.4,39.7 106.3,41C106.2,42.3 106.4,43.9 105.5,45C104.6,46.1 102.6,46.8 101,47.5C99.4,48.2 97.5,48.7 96,49.5C94.5,50.3 92.8,51.1 92,52.5C91.2,53.9 90.9,56.1 91,58C91.1,59.9 92,62 92.5,64C93,66 93.7,67.3 94,70C94.3,72.7 94.1,76.7 94.2,80C94.3,83.3 94.3,86.7 94.5,90C94.7,93.3 95.2,97 95.5,100C95.8,103 96.2,105.3 96,108C95.8,110.7 94.6,113.5 94,116C93.4,118.5 92.3,120.8 92.3,123C92.3,125.2 93,127.2 94,129C95,130.8 97.3,133.2 98,134Q114.5,135.6 131,134C131.8,133.2 134.5,130.8 135.5,129C136.5,127.2 137.2,125.2 137,123C136.8,120.8 135.3,118.5 134.5,116C133.7,113.5 132.2,110.7 132,108C131.8,105.3 132.5,103 133,100C133.5,97 134.6,93.3 135,90C135.4,86.7 135.4,83.3 135.4,80C135.4,76.7 135,72.7 135.2,70C135.4,67.3 136.2,66 136.5,64C136.8,62 137.1,59.9 137,58C136.9,56.1 136.8,53.9 136,52.5C135.2,51.1 133.5,50.3 132,49.5C130.5,48.7 128.5,48.2 127,47.5C125.5,46.8 123.6,46.1 122.8,45C122,43.9 122.2,42.3 122,41C121.8,39.7 121.7,38.5 121.8,37C121.9,35.5 122.3,34.2 122.4,32C122.5,29.8 122.6,25.3 122.6,24Q113.4,22.4 104.3,24Z"/><path d="M94,49.3C93.5,49.6 92,50.3 91,51.3C90,52.2 89,53.5 88.2,55C87.4,56.5 86.6,58.2 86,60C85.4,61.8 85,64 84.6,66C84.2,68 83.8,69.7 83.4,72C83,74.3 82.4,77 82.2,80C82,83 82.1,86.7 82.3,90C82.5,93.3 82.8,97.3 83.3,100C83.8,102.7 84.5,104 85.5,106C86.5,108 87.8,110.2 89,112C90.2,113.8 91.4,115.2 92.6,117C93.8,118.8 95.4,121 96.2,123C97,125 97.1,127.2 97.5,129C97.9,130.8 98.3,133.2 98.5,134Q99.5,134.7 100.5,134C100.6,133.2 100.9,130.8 101,129C101.1,127.2 101.2,125 101,123C100.8,121 100.2,118.8 99.6,117C99,115.2 98.2,113.8 97.3,112C96.4,110.2 94.9,108 94,106C93.1,104 92.3,102.7 92,100C91.7,97.3 92.1,93.3 92.2,90C92.3,86.7 92.2,83 92.6,80C93,77 93.9,74.3 94.5,72C95.1,69.7 95.6,68 96,66C96.4,64 96.8,61.8 97,60C97.2,58.2 97.3,56.5 97.5,55C97.7,53.5 97.9,52.2 98,51.3C98.1,50.3 98,49.6 98,49.3Q96,47.9 94,49.3Z"/><path d="M129,48.3C129,48.6 128.9,49.2 129,50.3C129.1,51.4 129.3,53.4 129.5,55C129.7,56.6 130,58.2 130.3,60C130.6,61.8 130.9,64 131.5,66C132.1,68 133.1,69.7 134,72C134.9,74.3 136.1,77.3 136.8,80C137.5,82.7 137.7,85.5 138,88C138.3,90.5 138.5,93 138.6,95C138.7,97 139.1,98.5 138.8,100C138.5,101.5 137.8,102.7 137,104C136.2,105.3 134.9,106.7 134,108C133.1,109.3 132,110.8 131.5,112C131,113.2 131.1,114.5 131,115Q132.8,116.2 134.5,115C134.9,114.5 136,113.2 137.2,112C138.4,110.8 140.2,109.3 141.5,108C142.8,106.7 144.2,105.3 145.2,104C146.1,102.7 146.9,101.5 147.2,100C147.5,98.5 147.1,97 147,95C146.9,93 146.7,90.5 146.4,88C146.1,85.5 145.6,82.7 145.2,80C144.8,77.3 144.3,74.3 143.9,72C143.5,69.7 143.3,68 143,66C142.7,64 142.3,61.8 141.9,60C141.5,58.2 141.1,56.6 140.3,55C139.5,53.4 138.2,51.4 137,50.3C135.8,49.2 133.7,48.6 133,48.3Q131,46.9 129,48.3Z"/><path d="M93,120C92.7,121.7 91.5,126.7 91.3,130C91.1,133.3 91.5,136.7 92,140C92.5,143.3 93.2,146.7 94,150C94.8,153.3 95.7,156.7 96.5,160C97.3,163.3 98.3,166.7 99,170C99.7,173.3 100.3,177.3 100.6,180C100.9,182.7 101.1,184 101,186C100.9,188 100.4,189.7 100.2,192C100,194.3 99.6,197.3 99.6,200C99.6,202.7 100,205.8 100.3,208C100.6,210.2 101,211.3 101.4,213C101.8,214.7 102.3,216 102.7,218C103.1,220 103.6,222.5 104,225C104.4,227.5 104.8,230.5 105,233C105.2,235.5 105.2,237.8 105.2,240C105.2,242.2 105.2,244.3 105,246C104.8,247.7 104.2,248.7 103.8,250C103.4,251.3 102.8,252.8 102.6,254C102.3,255.2 102.1,256.2 102.3,257C102.5,257.8 103.7,258.5 104,258.8Q105.5,259.9 107,258.8C107.4,258.5 108.7,257.8 109.5,257C110.3,256.2 111,255.2 111.6,254C112.2,252.8 112.7,251.3 113,250C113.3,248.7 113.5,247.7 113.5,246C113.5,244.3 113.3,242.2 113.2,240C113.1,237.8 112.8,235.5 112.7,233C112.6,230.5 112.8,227.5 112.8,225C112.8,222.5 112.8,220 112.9,218C113,216 113.2,214.7 113.4,213C113.6,211.3 114,210.2 114.2,208C114.4,205.8 114.4,202.7 114.4,200C114.4,197.3 114.4,194.3 114.4,192C114.4,189.7 114.4,188 114.4,186C114.4,184 114.4,182.7 114.4,180C114.4,177.3 114.4,173.3 114.4,170C114.4,166.7 114.4,163.3 114.4,160C114.4,156.7 114.4,153.3 114.4,150C114.4,146.7 114.4,143.3 114.4,140C114.4,136.7 114.4,133.3 114.4,130C114.4,126.7 114.4,121.7 114.4,120Q103.7,118.4 93,120Z"/><path d="M117.2,120C117.2,121.7 117.2,126.7 117.2,130C117.2,133.3 117.2,136.7 117.2,140C117.2,143.3 117.2,146.7 117.2,150C117.2,153.3 117.2,156.7 117.2,160C117.2,163.3 117.1,166.7 117.2,170C117.3,173.3 117.5,177.3 117.6,180C117.7,182.7 117.8,184 117.9,186C118,188 118,189.7 118,192C118,194.3 118.2,197.3 118.2,200C118.2,202.7 118.2,205.8 118.3,208C118.3,210.2 118.4,211.3 118.5,213C118.6,214.7 118.7,216 118.8,218C118.9,220 119.2,222.5 119.3,225C119.4,227.5 119.8,230.5 119.6,233C119.4,235.5 118.6,237.8 118.2,240C117.8,242.2 117.3,244.3 117.3,246C117.3,247.7 117.8,248.7 118.2,250C118.6,251.3 119.3,252.8 119.8,254C120.3,255.2 120.4,256.2 121,257C121.6,257.8 123.1,258.5 123.5,258.8Q125,259.9 126.5,258.8C126.8,258.5 128.1,257.8 128.5,257C128.9,256.2 129,255.2 128.8,254C128.7,252.8 128,251.3 127.6,250C127.2,248.7 126.7,247.7 126.5,246C126.3,244.3 126.5,242.2 126.6,240C126.7,237.8 127.1,235.5 127.3,233C127.5,230.5 127.8,227.5 128,225C128.2,222.5 128.5,220 128.8,218C129.1,216 129.6,214.7 130,213C130.4,211.3 131,210.2 131.3,208C131.6,205.8 132,202.7 132,200C132,197.3 131.5,194.3 131.3,192C131.1,189.7 130.6,188 130.6,186C130.6,184 130.8,182.7 131.2,180C131.6,177.3 132.4,173.3 133,170C133.6,166.7 134.3,163.3 135,160C135.7,156.7 136.4,153.3 137,150C137.6,146.7 138.5,143.3 138.7,140C138.9,136.7 138.7,133.3 138.3,130C137.9,126.7 136.8,121.7 136.5,120Q126.8,118.4 117.2,120Z"/></clipPath>
<clipPath id="crop2"><rect x="0" y="30.2" width="230" height="250"/></clipPath>
<g clip-path="url(#crop2)">
<g filter="url(#bl08)"><path d="M104.3,24C104.3,25.3 104.3,29.8 104.6,32C104.9,34.2 105.7,35.5 106,37C106.3,38.5 106.4,39.7 106.3,41C106.2,42.3 106.4,43.9 105.5,45C104.6,46.1 102.6,46.8 101,47.5C99.4,48.2 97.5,48.7 96,49.5C94.5,50.3 92.8,51.1 92,52.5C91.2,53.9 90.9,56.1 91,58C91.1,59.9 92,62 92.5,64C93,66 93.7,67.3 94,70C94.3,72.7 94.1,76.7 94.2,80C94.3,83.3 94.3,86.7 94.5,90C94.7,93.3 95.2,97 95.5,100C95.8,103 96.2,105.3 96,108C95.8,110.7 94.6,113.5 94,116C93.4,118.5 92.3,120.8 92.3,123C92.3,125.2 93,127.2 94,129C95,130.8 97.3,133.2 98,134Q114.5,135.6 131,134C131.8,133.2 134.5,130.8 135.5,129C136.5,127.2 137.2,125.2 137,123C136.8,120.8 135.3,118.5 134.5,116C133.7,113.5 132.2,110.7 132,108C131.8,105.3 132.5,103 133,100C133.5,97 134.6,93.3 135,90C135.4,86.7 135.4,83.3 135.4,80C135.4,76.7 135,72.7 135.2,70C135.4,67.3 136.2,66 136.5,64C136.8,62 137.1,59.9 137,58C136.9,56.1 136.8,53.9 136,52.5C135.2,51.1 133.5,50.3 132,49.5C130.5,48.7 128.5,48.2 127,47.5C125.5,46.8 123.6,46.1 122.8,45C122,43.9 122.2,42.3 122,41C121.8,39.7 121.7,38.5 121.8,37C121.9,35.5 122.3,34.2 122.4,32C122.5,29.8 122.6,25.3 122.6,24Q113.4,22.4 104.3,24Z" fill="#e6e6e6" /><path d="M93,120C92.7,121.7 91.5,126.7 91.3,130C91.1,133.3 91.5,136.7 92,140C92.5,143.3 93.2,146.7 94,150C94.8,153.3 95.7,156.7 96.5,160C97.3,163.3 98.3,166.7 99,170C99.7,173.3 100.3,177.3 100.6,180C100.9,182.7 101.1,184 101,186C100.9,188 100.4,189.7 100.2,192C100,194.3 99.6,197.3 99.6,200C99.6,202.7 100,205.8 100.3,208C100.6,210.2 101,211.3 101.4,213C101.8,214.7 102.3,216 102.7,218C103.1,220 103.6,222.5 104,225C104.4,227.5 104.8,230.5 105,233C105.2,235.5 105.2,237.8 105.2,240C105.2,242.2 105.2,244.3 105,246C104.8,247.7 104.2,248.7 103.8,250C103.4,251.3 102.8,252.8 102.6,254C102.3,255.2 102.1,256.2 102.3,257C102.5,257.8 103.7,258.5 104,258.8Q105.5,259.9 107,258.8C107.4,258.5 108.7,257.8 109.5,257C110.3,256.2 111,255.2 111.6,254C112.2,252.8 112.7,251.3 113,250C113.3,248.7 113.5,247.7 113.5,246C113.5,244.3 113.3,242.2 113.2,240C113.1,237.8 112.8,235.5 112.7,233C112.6,230.5 112.8,227.5 112.8,225C112.8,222.5 112.8,220 112.9,218C113,216 113.2,214.7 113.4,213C113.6,211.3 114,210.2 114.2,208C114.4,205.8 114.4,202.7 114.4,200C114.4,197.3 114.4,194.3 114.4,192C114.4,189.7 114.4,188 114.4,186C114.4,184 114.4,182.7 114.4,180C114.4,177.3 114.4,173.3 114.4,170C114.4,166.7 114.4,163.3 114.4,160C114.4,156.7 114.4,153.3 114.4,150C114.4,146.7 114.4,143.3 114.4,140C114.4,136.7 114.4,133.3 114.4,130C114.4,126.7 114.4,121.7 114.4,120Q103.7,118.4 93,120Z" fill="#e6e6e6" /><path d="M117.2,120C117.2,121.7 117.2,126.7 117.2,130C117.2,133.3 117.2,136.7 117.2,140C117.2,143.3 117.2,146.7 117.2,150C117.2,153.3 117.2,156.7 117.2,160C117.2,163.3 117.1,166.7 117.2,170C117.3,173.3 117.5,177.3 117.6,180C117.7,182.7 117.8,184 117.9,186C118,188 118,189.7 118,192C118,194.3 118.2,197.3 118.2,200C118.2,202.7 118.2,205.8 118.3,208C118.3,210.2 118.4,211.3 118.5,213C118.6,214.7 118.7,216 118.8,218C118.9,220 119.2,222.5 119.3,225C119.4,227.5 119.8,230.5 119.6,233C119.4,235.5 118.6,237.8 118.2,240C117.8,242.2 117.3,244.3 117.3,246C117.3,247.7 117.8,248.7 118.2,250C118.6,251.3 119.3,252.8 119.8,254C120.3,255.2 120.4,256.2 121,257C121.6,257.8 123.1,258.5 123.5,258.8Q125,259.9 126.5,258.8C126.8,258.5 128.1,257.8 128.5,257C128.9,256.2 129,255.2 128.8,254C128.7,252.8 128,251.3 127.6,250C127.2,248.7 126.7,247.7 126.5,246C126.3,244.3 126.5,242.2 126.6,240C126.7,237.8 127.1,235.5 127.3,233C127.5,230.5 127.8,227.5 128,225C128.2,222.5 128.5,220 128.8,218C129.1,216 129.6,214.7 130,213C130.4,211.3 131,210.2 131.3,208C131.6,205.8 132,202.7 132,200C132,197.3 131.5,194.3 131.3,192C131.1,189.7 130.6,188 130.6,186C130.6,184 130.8,182.7 131.2,180C131.6,177.3 132.4,173.3 133,170C133.6,166.7 134.3,163.3 135,160C135.7,156.7 136.4,153.3 137,150C137.6,146.7 138.5,143.3 138.7,140C138.9,136.7 138.7,133.3 138.3,130C137.9,126.7 136.8,121.7 136.5,120Q126.8,118.4 117.2,120Z" fill="#e6e6e6" /></g>
<g filter="url(#bl1)"><path d="M94,49.3C93.5,49.6 92,50.3 91,51.3C90,52.2 89,53.5 88.2,55C87.4,56.5 86.6,58.2 86,60C85.4,61.8 85,64 84.6,66C84.2,68 83.8,69.7 83.4,72C83,74.3 82.4,77 82.2,80C82,83 82.1,86.7 82.3,90C82.5,93.3 82.8,97.3 83.3,100C83.8,102.7 84.5,104 85.5,106C86.5,108 87.8,110.2 89,112C90.2,113.8 91.4,115.2 92.6,117C93.8,118.8 95.4,121 96.2,123C97,125 97.1,127.2 97.5,129C97.9,130.8 98.3,133.2 98.5,134Q99.5,134.7 100.5,134C100.6,133.2 100.9,130.8 101,129C101.1,127.2 101.2,125 101,123C100.8,121 100.2,118.8 99.6,117C99,115.2 98.2,113.8 97.3,112C96.4,110.2 94.9,108 94,106C93.1,104 92.3,102.7 92,100C91.7,97.3 92.1,93.3 92.2,90C92.3,86.7 92.2,83 92.6,80C93,77 93.9,74.3 94.5,72C95.1,69.7 95.6,68 96,66C96.4,64 96.8,61.8 97,60C97.2,58.2 97.3,56.5 97.5,55C97.7,53.5 97.9,52.2 98,51.3C98.1,50.3 98,49.6 98,49.3Q96,47.9 94,49.3Z" fill="#e6e6e6" /><path d="M129,48.3C129,48.6 128.9,49.2 129,50.3C129.1,51.4 129.3,53.4 129.5,55C129.7,56.6 130,58.2 130.3,60C130.6,61.8 130.9,64 131.5,66C132.1,68 133.1,69.7 134,72C134.9,74.3 136.1,77.3 136.8,80C137.5,82.7 137.7,85.5 138,88C138.3,90.5 138.5,93 138.6,95C138.7,97 139.1,98.5 138.8,100C138.5,101.5 137.8,102.7 137,104C136.2,105.3 134.9,106.7 134,108C133.1,109.3 132,110.8 131.5,112C131,113.2 131.1,114.5 131,115Q132.8,116.2 134.5,115C134.9,114.5 136,113.2 137.2,112C138.4,110.8 140.2,109.3 141.5,108C142.8,106.7 144.2,105.3 145.2,104C146.1,102.7 146.9,101.5 147.2,100C147.5,98.5 147.1,97 147,95C146.9,93 146.7,90.5 146.4,88C146.1,85.5 145.6,82.7 145.2,80C144.8,77.3 144.3,74.3 143.9,72C143.5,69.7 143.3,68 143,66C142.7,64 142.3,61.8 141.9,60C141.5,58.2 141.1,56.6 140.3,55C139.5,53.4 138.2,51.4 137,50.3C135.8,49.2 133.7,48.6 133,48.3Q131,46.9 129,48.3Z" fill="#e6e6e6" /></g>
<g filter="url(#ero)"><path d="M94,49.3C93.5,49.6 92,50.3 91,51.3C90,52.2 89,53.5 88.2,55C87.4,56.5 86.6,58.2 86,60C85.4,61.8 85,64 84.6,66C84.2,68 83.8,69.7 83.4,72C83,74.3 82.4,77 82.2,80C82,83 82.1,86.7 82.3,90C82.5,93.3 82.8,97.3 83.3,100C83.8,102.7 84.5,104 85.5,106C86.5,108 87.8,110.2 89,112C90.2,113.8 91.4,115.2 92.6,117C93.8,118.8 95.4,121 96.2,123C97,125 97.1,127.2 97.5,129C97.9,130.8 98.3,133.2 98.5,134Q99.5,134.7 100.5,134C100.6,133.2 100.9,130.8 101,129C101.1,127.2 101.2,125 101,123C100.8,121 100.2,118.8 99.6,117C99,115.2 98.2,113.8 97.3,112C96.4,110.2 94.9,108 94,106C93.1,104 92.3,102.7 92,100C91.7,97.3 92.1,93.3 92.2,90C92.3,86.7 92.2,83 92.6,80C93,77 93.9,74.3 94.5,72C95.1,69.7 95.6,68 96,66C96.4,64 96.8,61.8 97,60C97.2,58.2 97.3,56.5 97.5,55C97.7,53.5 97.9,52.2 98,51.3C98.1,50.3 98,49.6 98,49.3Q96,47.9 94,49.3Z" fill="#dcdcdc" /><path d="M129,48.3C129,48.6 128.9,49.2 129,50.3C129.1,51.4 129.3,53.4 129.5,55C129.7,56.6 130,58.2 130.3,60C130.6,61.8 130.9,64 131.5,66C132.1,68 133.1,69.7 134,72C134.9,74.3 136.1,77.3 136.8,80C137.5,82.7 137.7,85.5 138,88C138.3,90.5 138.5,93 138.6,95C138.7,97 139.1,98.5 138.8,100C138.5,101.5 137.8,102.7 137,104C136.2,105.3 134.9,106.7 134,108C133.1,109.3 132,110.8 131.5,112C131,113.2 131.1,114.5 131,115Q132.8,116.2 134.5,115C134.9,114.5 136,113.2 137.2,112C138.4,110.8 140.2,109.3 141.5,108C142.8,106.7 144.2,105.3 145.2,104C146.1,102.7 146.9,101.5 147.2,100C147.5,98.5 147.1,97 147,95C146.9,93 146.7,90.5 146.4,88C146.1,85.5 145.6,82.7 145.2,80C144.8,77.3 144.3,74.3 143.9,72C143.5,69.7 143.3,68 143,66C142.7,64 142.3,61.8 141.9,60C141.5,58.2 141.1,56.6 140.3,55C139.5,53.4 138.2,51.4 137,50.3C135.8,49.2 133.7,48.6 133,48.3Q131,46.9 129,48.3Z" fill="#dcdcdc" /></g>
<g filter="url(#ero2)"><path d="M94,49.3C93.5,49.6 92,50.3 91,51.3C90,52.2 89,53.5 88.2,55C87.4,56.5 86.6,58.2 86,60C85.4,61.8 85,64 84.6,66C84.2,68 83.8,69.7 83.4,72C83,74.3 82.4,77 82.2,80C82,83 82.1,86.7 82.3,90C82.5,93.3 82.8,97.3 83.3,100C83.8,102.7 84.5,104 85.5,106C86.5,108 87.8,110.2 89,112C90.2,113.8 91.4,115.2 92.6,117C93.8,118.8 95.4,121 96.2,123C97,125 97.1,127.2 97.5,129C97.9,130.8 98.3,133.2 98.5,134Q99.5,134.7 100.5,134C100.6,133.2 100.9,130.8 101,129C101.1,127.2 101.2,125 101,123C100.8,121 100.2,118.8 99.6,117C99,115.2 98.2,113.8 97.3,112C96.4,110.2 94.9,108 94,106C93.1,104 92.3,102.7 92,100C91.7,97.3 92.1,93.3 92.2,90C92.3,86.7 92.2,83 92.6,80C93,77 93.9,74.3 94.5,72C95.1,69.7 95.6,68 96,66C96.4,64 96.8,61.8 97,60C97.2,58.2 97.3,56.5 97.5,55C97.7,53.5 97.9,52.2 98,51.3C98.1,50.3 98,49.6 98,49.3Q96,47.9 94,49.3Z" fill="#d2d2d2" /><path d="M129,48.3C129,48.6 128.9,49.2 129,50.3C129.1,51.4 129.3,53.4 129.5,55C129.7,56.6 130,58.2 130.3,60C130.6,61.8 130.9,64 131.5,66C132.1,68 133.1,69.7 134,72C134.9,74.3 136.1,77.3 136.8,80C137.5,82.7 137.7,85.5 138,88C138.3,90.5 138.5,93 138.6,95C138.7,97 139.1,98.5 138.8,100C138.5,101.5 137.8,102.7 137,104C136.2,105.3 134.9,106.7 134,108C133.1,109.3 132,110.8 131.5,112C131,113.2 131.1,114.5 131,115Q132.8,116.2 134.5,115C134.9,114.5 136,113.2 137.2,112C138.4,110.8 140.2,109.3 141.5,108C142.8,106.7 144.2,105.3 145.2,104C146.1,102.7 146.9,101.5 147.2,100C147.5,98.5 147.1,97 147,95C146.9,93 146.7,90.5 146.4,88C146.1,85.5 145.6,82.7 145.2,80C144.8,77.3 144.3,74.3 143.9,72C143.5,69.7 143.3,68 143,66C142.7,64 142.3,61.8 141.9,60C141.5,58.2 141.1,56.6 140.3,55C139.5,53.4 138.2,51.4 137,50.3C135.8,49.2 133.7,48.6 133,48.3Q131,46.9 129,48.3Z" fill="#d2d2d2" /></g>
<g mask="url(#armmask)"><g filter="url(#bl06)" fill="none" stroke="#bcbcbc" stroke-width="0.8"><path d="M94,49.3C93.5,49.6 92,50.3 91,51.3C90,52.2 89,53.5 88.2,55C87.4,56.5 86.6,58.2 86,60C85.4,61.8 85,64 84.6,66C84.2,68 83.8,69.7 83.4,72C83,74.3 82.4,77 82.2,80C82,83 82.1,86.7 82.3,90C82.5,93.3 82.8,97.3 83.3,100C83.8,102.7 84.5,104 85.5,106C86.5,108 87.8,110.2 89,112C90.2,113.8 91.4,115.2 92.6,117C93.8,118.8 95.4,121 96.2,123C97,125 97.1,127.2 97.5,129C97.9,130.8 98.3,133.2 98.5,134Q99.5,134.7 100.5,134C100.6,133.2 100.9,130.8 101,129C101.1,127.2 101.2,125 101,123C100.8,121 100.2,118.8 99.6,117C99,115.2 98.2,113.8 97.3,112C96.4,110.2 94.9,108 94,106C93.1,104 92.3,102.7 92,100C91.7,97.3 92.1,93.3 92.2,90C92.3,86.7 92.2,83 92.6,80C93,77 93.9,74.3 94.5,72C95.1,69.7 95.6,68 96,66C96.4,64 96.8,61.8 97,60C97.2,58.2 97.3,56.5 97.5,55C97.7,53.5 97.9,52.2 98,51.3C98.1,50.3 98,49.6 98,49.3Q96,47.9 94,49.3Z"/><path d="M129,48.3C129,48.6 128.9,49.2 129,50.3C129.1,51.4 129.3,53.4 129.5,55C129.7,56.6 130,58.2 130.3,60C130.6,61.8 130.9,64 131.5,66C132.1,68 133.1,69.7 134,72C134.9,74.3 136.1,77.3 136.8,80C137.5,82.7 137.7,85.5 138,88C138.3,90.5 138.5,93 138.6,95C138.7,97 139.1,98.5 138.8,100C138.5,101.5 137.8,102.7 137,104C136.2,105.3 134.9,106.7 134,108C133.1,109.3 132,110.8 131.5,112C131,113.2 131.1,114.5 131,115Q132.8,116.2 134.5,115C134.9,114.5 136,113.2 137.2,112C138.4,110.8 140.2,109.3 141.5,108C142.8,106.7 144.2,105.3 145.2,104C146.1,102.7 146.9,101.5 147.2,100C147.5,98.5 147.1,97 147,95C146.9,93 146.7,90.5 146.4,88C146.1,85.5 145.6,82.7 145.2,80C144.8,77.3 144.3,74.3 143.9,72C143.5,69.7 143.3,68 143,66C142.7,64 142.3,61.8 141.9,60C141.5,58.2 141.1,56.6 140.3,55C139.5,53.4 138.2,51.4 137,50.3C135.8,49.2 133.7,48.6 133,48.3Q131,46.9 129,48.3Z"/></g></g>
<g filter="url(#ero)"><path d="M104.3,24C104.3,25.3 104.3,29.8 104.6,32C104.9,34.2 105.7,35.5 106,37C106.3,38.5 106.4,39.7 106.3,41C106.2,42.3 106.4,43.9 105.5,45C104.6,46.1 102.6,46.8 101,47.5C99.4,48.2 97.5,48.7 96,49.5C94.5,50.3 92.8,51.1 92,52.5C91.2,53.9 90.9,56.1 91,58C91.1,59.9 92,62 92.5,64C93,66 93.7,67.3 94,70C94.3,72.7 94.1,76.7 94.2,80C94.3,83.3 94.3,86.7 94.5,90C94.7,93.3 95.2,97 95.5,100C95.8,103 96.2,105.3 96,108C95.8,110.7 94.6,113.5 94,116C93.4,118.5 92.3,120.8 92.3,123C92.3,125.2 93,127.2 94,129C95,130.8 97.3,133.2 98,134Q114.5,135.6 131,134C131.8,133.2 134.5,130.8 135.5,129C136.5,127.2 137.2,125.2 137,123C136.8,120.8 135.3,118.5 134.5,116C133.7,113.5 132.2,110.7 132,108C131.8,105.3 132.5,103 133,100C133.5,97 134.6,93.3 135,90C135.4,86.7 135.4,83.3 135.4,80C135.4,76.7 135,72.7 135.2,70C135.4,67.3 136.2,66 136.5,64C136.8,62 137.1,59.9 137,58C136.9,56.1 136.8,53.9 136,52.5C135.2,51.1 133.5,50.3 132,49.5C130.5,48.7 128.5,48.2 127,47.5C125.5,46.8 123.6,46.1 122.8,45C122,43.9 122.2,42.3 122,41C121.8,39.7 121.7,38.5 121.8,37C121.9,35.5 122.3,34.2 122.4,32C122.5,29.8 122.6,25.3 122.6,24Q113.4,22.4 104.3,24Z" fill="#d2d2d2" /><path d="M93,120C92.7,121.7 91.5,126.7 91.3,130C91.1,133.3 91.5,136.7 92,140C92.5,143.3 93.2,146.7 94,150C94.8,153.3 95.7,156.7 96.5,160C97.3,163.3 98.3,166.7 99,170C99.7,173.3 100.3,177.3 100.6,180C100.9,182.7 101.1,184 101,186C100.9,188 100.4,189.7 100.2,192C100,194.3 99.6,197.3 99.6,200C99.6,202.7 100,205.8 100.3,208C100.6,210.2 101,211.3 101.4,213C101.8,214.7 102.3,216 102.7,218C103.1,220 103.6,222.5 104,225C104.4,227.5 104.8,230.5 105,233C105.2,235.5 105.2,237.8 105.2,240C105.2,242.2 105.2,244.3 105,246C104.8,247.7 104.2,248.7 103.8,250C103.4,251.3 102.8,252.8 102.6,254C102.3,255.2 102.1,256.2 102.3,257C102.5,257.8 103.7,258.5 104,258.8Q105.5,259.9 107,258.8C107.4,258.5 108.7,257.8 109.5,257C110.3,256.2 111,255.2 111.6,254C112.2,252.8 112.7,251.3 113,250C113.3,248.7 113.5,247.7 113.5,246C113.5,244.3 113.3,242.2 113.2,240C113.1,237.8 112.8,235.5 112.7,233C112.6,230.5 112.8,227.5 112.8,225C112.8,222.5 112.8,220 112.9,218C113,216 113.2,214.7 113.4,213C113.6,211.3 114,210.2 114.2,208C114.4,205.8 114.4,202.7 114.4,200C114.4,197.3 114.4,194.3 114.4,192C114.4,189.7 114.4,188 114.4,186C114.4,184 114.4,182.7 114.4,180C114.4,177.3 114.4,173.3 114.4,170C114.4,166.7 114.4,163.3 114.4,160C114.4,156.7 114.4,153.3 114.4,150C114.4,146.7 114.4,143.3 114.4,140C114.4,136.7 114.4,133.3 114.4,130C114.4,126.7 114.4,121.7 114.4,120Q103.7,118.4 93,120Z" fill="#d2d2d2" /><path d="M117.2,120C117.2,121.7 117.2,126.7 117.2,130C117.2,133.3 117.2,136.7 117.2,140C117.2,143.3 117.2,146.7 117.2,150C117.2,153.3 117.2,156.7 117.2,160C117.2,163.3 117.1,166.7 117.2,170C117.3,173.3 117.5,177.3 117.6,180C117.7,182.7 117.8,184 117.9,186C118,188 118,189.7 118,192C118,194.3 118.2,197.3 118.2,200C118.2,202.7 118.2,205.8 118.3,208C118.3,210.2 118.4,211.3 118.5,213C118.6,214.7 118.7,216 118.8,218C118.9,220 119.2,222.5 119.3,225C119.4,227.5 119.8,230.5 119.6,233C119.4,235.5 118.6,237.8 118.2,240C117.8,242.2 117.3,244.3 117.3,246C117.3,247.7 117.8,248.7 118.2,250C118.6,251.3 119.3,252.8 119.8,254C120.3,255.2 120.4,256.2 121,257C121.6,257.8 123.1,258.5 123.5,258.8Q125,259.9 126.5,258.8C126.8,258.5 128.1,257.8 128.5,257C128.9,256.2 129,255.2 128.8,254C128.7,252.8 128,251.3 127.6,250C127.2,248.7 126.7,247.7 126.5,246C126.3,244.3 126.5,242.2 126.6,240C126.7,237.8 127.1,235.5 127.3,233C127.5,230.5 127.8,227.5 128,225C128.2,222.5 128.5,220 128.8,218C129.1,216 129.6,214.7 130,213C130.4,211.3 131,210.2 131.3,208C131.6,205.8 132,202.7 132,200C132,197.3 131.5,194.3 131.3,192C131.1,189.7 130.6,188 130.6,186C130.6,184 130.8,182.7 131.2,180C131.6,177.3 132.4,173.3 133,170C133.6,166.7 134.3,163.3 135,160C135.7,156.7 136.4,153.3 137,150C137.6,146.7 138.5,143.3 138.7,140C138.9,136.7 138.7,133.3 138.3,130C137.9,126.7 136.8,121.7 136.5,120Q126.8,118.4 117.2,120Z" fill="#d2d2d2" /></g>
<g filter="url(#ero2)"><path d="M104.3,24C104.3,25.3 104.3,29.8 104.6,32C104.9,34.2 105.7,35.5 106,37C106.3,38.5 106.4,39.7 106.3,41C106.2,42.3 106.4,43.9 105.5,45C104.6,46.1 102.6,46.8 101,47.5C99.4,48.2 97.5,48.7 96,49.5C94.5,50.3 92.8,51.1 92,52.5C91.2,53.9 90.9,56.1 91,58C91.1,59.9 92,62 92.5,64C93,66 93.7,67.3 94,70C94.3,72.7 94.1,76.7 94.2,80C94.3,83.3 94.3,86.7 94.5,90C94.7,93.3 95.2,97 95.5,100C95.8,103 96.2,105.3 96,108C95.8,110.7 94.6,113.5 94,116C93.4,118.5 92.3,120.8 92.3,123C92.3,125.2 93,127.2 94,129C95,130.8 97.3,133.2 98,134Q114.5,135.6 131,134C131.8,133.2 134.5,130.8 135.5,129C136.5,127.2 137.2,125.2 137,123C136.8,120.8 135.3,118.5 134.5,116C133.7,113.5 132.2,110.7 132,108C131.8,105.3 132.5,103 133,100C133.5,97 134.6,93.3 135,90C135.4,86.7 135.4,83.3 135.4,80C135.4,76.7 135,72.7 135.2,70C135.4,67.3 136.2,66 136.5,64C136.8,62 137.1,59.9 137,58C136.9,56.1 136.8,53.9 136,52.5C135.2,51.1 133.5,50.3 132,49.5C130.5,48.7 128.5,48.2 127,47.5C125.5,46.8 123.6,46.1 122.8,45C122,43.9 122.2,42.3 122,41C121.8,39.7 121.7,38.5 121.8,37C121.9,35.5 122.3,34.2 122.4,32C122.5,29.8 122.6,25.3 122.6,24Q113.4,22.4 104.3,24Z" fill="#c3c3c3" /><path d="M93,120C92.7,121.7 91.5,126.7 91.3,130C91.1,133.3 91.5,136.7 92,140C92.5,143.3 93.2,146.7 94,150C94.8,153.3 95.7,156.7 96.5,160C97.3,163.3 98.3,166.7 99,170C99.7,173.3 100.3,177.3 100.6,180C100.9,182.7 101.1,184 101,186C100.9,188 100.4,189.7 100.2,192C100,194.3 99.6,197.3 99.6,200C99.6,202.7 100,205.8 100.3,208C100.6,210.2 101,211.3 101.4,213C101.8,214.7 102.3,216 102.7,218C103.1,220 103.6,222.5 104,225C104.4,227.5 104.8,230.5 105,233C105.2,235.5 105.2,237.8 105.2,240C105.2,242.2 105.2,244.3 105,246C104.8,247.7 104.2,248.7 103.8,250C103.4,251.3 102.8,252.8 102.6,254C102.3,255.2 102.1,256.2 102.3,257C102.5,257.8 103.7,258.5 104,258.8Q105.5,259.9 107,258.8C107.4,258.5 108.7,257.8 109.5,257C110.3,256.2 111,255.2 111.6,254C112.2,252.8 112.7,251.3 113,250C113.3,248.7 113.5,247.7 113.5,246C113.5,244.3 113.3,242.2 113.2,240C113.1,237.8 112.8,235.5 112.7,233C112.6,230.5 112.8,227.5 112.8,225C112.8,222.5 112.8,220 112.9,218C113,216 113.2,214.7 113.4,213C113.6,211.3 114,210.2 114.2,208C114.4,205.8 114.4,202.7 114.4,200C114.4,197.3 114.4,194.3 114.4,192C114.4,189.7 114.4,188 114.4,186C114.4,184 114.4,182.7 114.4,180C114.4,177.3 114.4,173.3 114.4,170C114.4,166.7 114.4,163.3 114.4,160C114.4,156.7 114.4,153.3 114.4,150C114.4,146.7 114.4,143.3 114.4,140C114.4,136.7 114.4,133.3 114.4,130C114.4,126.7 114.4,121.7 114.4,120Q103.7,118.4 93,120Z" fill="#c3c3c3" /><path d="M117.2,120C117.2,121.7 117.2,126.7 117.2,130C117.2,133.3 117.2,136.7 117.2,140C117.2,143.3 117.2,146.7 117.2,150C117.2,153.3 117.2,156.7 117.2,160C117.2,163.3 117.1,166.7 117.2,170C117.3,173.3 117.5,177.3 117.6,180C117.7,182.7 117.8,184 117.9,186C118,188 118,189.7 118,192C118,194.3 118.2,197.3 118.2,200C118.2,202.7 118.2,205.8 118.3,208C118.3,210.2 118.4,211.3 118.5,213C118.6,214.7 118.7,216 118.8,218C118.9,220 119.2,222.5 119.3,225C119.4,227.5 119.8,230.5 119.6,233C119.4,235.5 118.6,237.8 118.2,240C117.8,242.2 117.3,244.3 117.3,246C117.3,247.7 117.8,248.7 118.2,250C118.6,251.3 119.3,252.8 119.8,254C120.3,255.2 120.4,256.2 121,257C121.6,257.8 123.1,258.5 123.5,258.8Q125,259.9 126.5,258.8C126.8,258.5 128.1,257.8 128.5,257C128.9,256.2 129,255.2 128.8,254C128.7,252.8 128,251.3 127.6,250C127.2,248.7 126.7,247.7 126.5,246C126.3,244.3 126.5,242.2 126.6,240C126.7,237.8 127.1,235.5 127.3,233C127.5,230.5 127.8,227.5 128,225C128.2,222.5 128.5,220 128.8,218C129.1,216 129.6,214.7 130,213C130.4,211.3 131,210.2 131.3,208C131.6,205.8 132,202.7 132,200C132,197.3 131.5,194.3 131.3,192C131.1,189.7 130.6,188 130.6,186C130.6,184 130.8,182.7 131.2,180C131.6,177.3 132.4,173.3 133,170C133.6,166.7 134.3,163.3 135,160C135.7,156.7 136.4,153.3 137,150C137.6,146.7 138.5,143.3 138.7,140C138.9,136.7 138.7,133.3 138.3,130C137.9,126.7 136.8,121.7 136.5,120Q126.8,118.4 117.2,120Z" fill="#c3c3c3" /></g>
<g mask="url(#lowmask)"><g filter="url(#bl04)" fill="none" stroke="#b4b4b4" stroke-width="0.7"><path d="M93,120C92.7,121.7 91.5,126.7 91.3,130C91.1,133.3 91.5,136.7 92,140C92.5,143.3 93.2,146.7 94,150C94.8,153.3 95.7,156.7 96.5,160C97.3,163.3 98.3,166.7 99,170C99.7,173.3 100.3,177.3 100.6,180C100.9,182.7 101.1,184 101,186C100.9,188 100.4,189.7 100.2,192C100,194.3 99.6,197.3 99.6,200C99.6,202.7 100,205.8 100.3,208C100.6,210.2 101,211.3 101.4,213C101.8,214.7 102.3,216 102.7,218C103.1,220 103.6,222.5 104,225C104.4,227.5 104.8,230.5 105,233C105.2,235.5 105.2,237.8 105.2,240C105.2,242.2 105.2,244.3 105,246C104.8,247.7 104.2,248.7 103.8,250C103.4,251.3 102.8,252.8 102.6,254C102.3,255.2 102.1,256.2 102.3,257C102.5,257.8 103.7,258.5 104,258.8Q105.5,259.9 107,258.8C107.4,258.5 108.7,257.8 109.5,257C110.3,256.2 111,255.2 111.6,254C112.2,252.8 112.7,251.3 113,250C113.3,248.7 113.5,247.7 113.5,246C113.5,244.3 113.3,242.2 113.2,240C113.1,237.8 112.8,235.5 112.7,233C112.6,230.5 112.8,227.5 112.8,225C112.8,222.5 112.8,220 112.9,218C113,216 113.2,214.7 113.4,213C113.6,211.3 114,210.2 114.2,208C114.4,205.8 114.4,202.7 114.4,200C114.4,197.3 114.4,194.3 114.4,192C114.4,189.7 114.4,188 114.4,186C114.4,184 114.4,182.7 114.4,180C114.4,177.3 114.4,173.3 114.4,170C114.4,166.7 114.4,163.3 114.4,160C114.4,156.7 114.4,153.3 114.4,150C114.4,146.7 114.4,143.3 114.4,140C114.4,136.7 114.4,133.3 114.4,130C114.4,126.7 114.4,121.7 114.4,120Q103.7,118.4 93,120Z"/><path d="M117.2,120C117.2,121.7 117.2,126.7 117.2,130C117.2,133.3 117.2,136.7 117.2,140C117.2,143.3 117.2,146.7 117.2,150C117.2,153.3 117.2,156.7 117.2,160C117.2,163.3 117.1,166.7 117.2,170C117.3,173.3 117.5,177.3 117.6,180C117.7,182.7 117.8,184 117.9,186C118,188 118,189.7 118,192C118,194.3 118.2,197.3 118.2,200C118.2,202.7 118.2,205.8 118.3,208C118.3,210.2 118.4,211.3 118.5,213C118.6,214.7 118.7,216 118.8,218C118.9,220 119.2,222.5 119.3,225C119.4,227.5 119.8,230.5 119.6,233C119.4,235.5 118.6,237.8 118.2,240C117.8,242.2 117.3,244.3 117.3,246C117.3,247.7 117.8,248.7 118.2,250C118.6,251.3 119.3,252.8 119.8,254C120.3,255.2 120.4,256.2 121,257C121.6,257.8 123.1,258.5 123.5,258.8Q125,259.9 126.5,258.8C126.8,258.5 128.1,257.8 128.5,257C128.9,256.2 129,255.2 128.8,254C128.7,252.8 128,251.3 127.6,250C127.2,248.7 126.7,247.7 126.5,246C126.3,244.3 126.5,242.2 126.6,240C126.7,237.8 127.1,235.5 127.3,233C127.5,230.5 127.8,227.5 128,225C128.2,222.5 128.5,220 128.8,218C129.1,216 129.6,214.7 130,213C130.4,211.3 131,210.2 131.3,208C131.6,205.8 132,202.7 132,200C132,197.3 131.5,194.3 131.3,192C131.1,189.7 130.6,188 130.6,186C130.6,184 130.8,182.7 131.2,180C131.6,177.3 132.4,173.3 133,170C133.6,166.7 134.3,163.3 135,160C135.7,156.7 136.4,153.3 137,150C137.6,146.7 138.5,143.3 138.7,140C138.9,136.7 138.7,133.3 138.3,130C137.9,126.7 136.8,121.7 136.5,120Q126.8,118.4 117.2,120Z"/></g></g>
<g filter="url(#bl1)"><path d="M104,50C102.8,51 98.4,53.3 97,56C95.6,58.7 95.7,62 95.5,66C95.3,70 95.6,75.2 95.8,80C96,84.8 96.2,90.7 96.5,95C96.8,99.3 97.6,102.5 97.5,106C97.4,109.5 96.2,113 96,116C95.8,119 95.3,121.5 96,124C96.7,126.5 99.3,129.8 100,131Q115,132.6 130,131C130.7,129.8 133.5,126.5 134,124C134.5,121.5 133.5,119 133,116C132.5,113 131,109.5 131,106C131,102.5 132.5,99.3 133,95C133.5,90.7 133.9,84.8 134,80C134.1,75.2 134,70 133.5,66C133,62 132.8,58.7 131,56C129.2,53.3 124.3,51 123,50Q113.5,48.4 104,50Z" fill="#c0c0c0" /><path d="M107.5,38C107.6,38.7 107.8,40.5 108,42C108.2,43.5 108.2,45.3 108.5,47C108.8,48.7 109.8,51.2 110,52Q113.5,53.6 117,52C117.2,51.2 118.2,48.7 118.5,47C118.8,45.3 118.8,43.5 119,42C119.2,40.5 119.4,38.7 119.5,38Q113.5,36.4 107.5,38Z" fill="#a4a4a4" /><ellipse cx="103.5" cy="62" rx="5" ry="10" fill="#d3d3d3"/><ellipse cx="124" cy="62" rx="5.5" ry="10" fill="#d3d3d3"/><path d="M110,46C110.1,47.7 110.5,52 110.5,56C110.5,60 110.1,66.3 110,70C109.9,73.7 110,76.7 110,78Q114,79.6 118,78C117.8,76.7 117.3,73.7 117,70C116.7,66.3 116,60 116,56C116,52 116.8,47.7 117,46Q113.5,44.4 110,46Z" fill="#b2b2b2" /><ellipse cx="123.6" cy="80.6" rx="4.4" ry="3.8" fill="#8a8a8a"/><path d="M104,100C103.8,101.3 103.5,105.3 103,108C102.5,110.7 100.8,113.7 101,116C101.2,118.3 102.8,120.2 104,122C105.2,123.8 107.3,126.2 108,127Q115,128.6 122,127C122.7,126.2 125,123.8 126,122C127,120.2 128,118.3 128,116C128,113.7 126.7,110.7 126,108C125.3,105.3 124.3,101.3 124,100Q114,98.4 104,100Z" fill="#b0b0b0" /><ellipse cx="113.5" cy="112" rx="4.5" ry="6" fill="#a2a2a2"/></g>
<clipPath id="core2"><path d="M104,49C102.8,50 98.4,52.2 97,55C95.6,57.8 95.7,61.8 95.5,66C95.3,70.2 95.6,75.2 95.8,80C96,84.8 96.2,90.7 96.5,95C96.8,99.3 97.6,102.5 97.5,106C97.4,109.5 96.6,112 96,116C95.4,120 94.3,127.7 94,130Q115,131.6 136,130C135.5,127.7 133.8,120 133,116C132.2,112 131,109.5 131,106C131,102.5 132.5,99.3 133,95C133.5,90.7 133.9,84.8 134,80C134.1,75.2 134,70.2 133.5,66C133,61.8 132.8,57.8 131,55C129.2,52.2 124.3,50 123,49Q113.5,47.4 104,49Z"/></clipPath>
<g clip-path="url(#core2)" opacity="0.5" filter="url(#bl06)"><rect x="0" y="28" width="230" height="120" filter="url(#mott)"/></g>
<g clip-path="url(#bc2)" opacity="0.3"><rect x="0" y="28" width="230" height="235" filter="url(#grain)"/></g>
<g filter="url(#bl04)"><path d="M104.5,26C104.5,26.8 104.6,30.7 104.7,32C104.8,33.3 105,34.7 105.3,35.5C105.6,36.3 106.1,37.5 106.6,38C107.1,38.5 108.7,39.4 109,39.6Q113.4,41.2 117.8,39.6C118.1,39.4 119.4,38.5 119.9,38C120.4,37.5 121,36.3 121.2,35.5C121.4,34.7 121.6,33.3 121.7,32C121.8,30.7 121.9,26.8 121.9,26Q113.2,24.4 104.5,26Z" fill="#070707" /><path d="M98,84C98.2,82.1 98,79.9 99,78.6C100,77.3 102.2,76.4 104,76C105.8,75.6 108.6,75.8 110,76.4C111.4,77 111.9,77.2 112.3,79.5C112.7,81.8 112.7,87.2 112.3,90C111.9,92.8 111,94.2 110,96C109,97.8 107.4,99.8 106,101C104.6,102.2 102.8,103.5 101.6,103C100.4,102.5 99.4,100.2 98.8,98C98.2,95.8 97.9,92.3 97.8,90C97.7,87.7 97.8,85.9 98,84Z" fill="#6b6b6b" /><g fill="#4a4a4a"><circle cx="111.8" cy="44.6" r="1.2"/></g><g fill="#5a5a5a"><circle cx="113.3" cy="50.6" r="1.3"/></g><path d="M105,92.5C105.5,91.7 106.7,90.9 107.5,91C108.3,91.1 109.2,91.7 109.6,93C110,94.3 110,97.2 109.8,99C109.6,100.8 109.2,103 108.6,104C108,105 106.7,105.6 106,105.3C105.3,105 104.7,103.5 104.4,102C104.1,100.5 104.1,97.6 104.2,96C104.3,94.4 104.5,93.3 105,92.5Z" fill="#3a3a3a" /><path d="M120.6,87.5C121.2,86.6 122.5,85.9 123.5,86C124.5,86.1 126,86.8 126.6,88C127.2,89.2 127.4,91.3 127.2,93C127,94.7 126.4,97 125.6,98C124.8,99 123.4,99.3 122.6,99C121.8,98.7 121,97.2 120.6,96C120.2,94.8 120,92.9 120,91.5C120,90.1 120,88.4 120.6,87.5Z" fill="#3d3d3d" /><path d="M127.3,80L130.6,82.2" stroke="#666" stroke-width="0.8" fill="none" stroke-linecap="round" stroke-linejoin="round" /><path d="M127.3,83L130.6,85.2" stroke="#666" stroke-width="0.8" fill="none" stroke-linecap="round" stroke-linejoin="round" /><path d="M127.3,86L130.6,88.2" stroke="#666" stroke-width="0.8" fill="none" stroke-linecap="round" stroke-linejoin="round" /><path d="M127.3,89L130.6,91.2" stroke="#666" stroke-width="0.8" fill="none" stroke-linecap="round" stroke-linejoin="round" /><ellipse cx="130.9" cy="57.4" rx="0.9" ry="1.6" fill="#6a6a6a" transform="rotate(20 130.9 57.4)"/><path d="M120,80C120.2,79 121,78 122,77.6C123,77.2 125,77.1 126,77.4C127,77.7 127.7,78.7 128,79.6C128.3,80.5 128.3,82.2 127.6,83C126.9,83.8 125.2,84.5 124,84.6C122.8,84.7 121.3,84.2 120.6,83.4C119.9,82.6 119.8,81 120,80Z" fill="#5c5c5c" /><path d="M110,126.3C110.6,125.3 113.7,125.3 115.5,125.3C117.3,125.3 120.2,125.4 121,126.3C121.8,127.2 120.8,129.4 120,130.5C119.2,131.6 117.3,132.5 116,132.6C114.7,132.7 113,132.2 112,131.2C111,130.1 109.4,127.3 110,126.3Z" fill="#060606" /><path d="M102.5,146L103.6,153L105,161.5" stroke="#555" stroke-width="0.9" fill="none" stroke-linecap="round" stroke-linejoin="round" stroke-dasharray="2.2 1.0"/><path d="M126.8,139L127.2,147L127.2,155" stroke="#555" stroke-width="0.9" fill="none" stroke-linecap="round" stroke-linejoin="round" stroke-dasharray="2.2 1.0"/><path d="M105,162L106,180L106.6,200L107.6,225" stroke="#a6a6a6" stroke-width="0.8" fill="none" stroke-linecap="round" stroke-linejoin="round" /><path d="M127,156L125.4,180L124.6,200L123.4,225" stroke="#a6a6a6" stroke-width="0.8" fill="none" stroke-linecap="round" stroke-linejoin="round" /></g>
<g filter="url(#bl03)"><path d="M113,52L113,79" stroke="#5c5c5c" stroke-width="1.8" fill="none" stroke-linejoin="round" stroke-dasharray="1.5 1.1" stroke-linecap="butt"/><path d="M113.2,79.4L113.4,120" stroke="#808080" stroke-width="3.5" fill="none" stroke-linejoin="round" stroke-dasharray="2.4 1.4" stroke-linecap="butt"/></g>
</g>
<clipPath id="bc3"><path d="M178,24C178,25.3 177.9,29.8 178.2,32C178.4,34.2 179.1,35.5 179.5,37C179.9,38.5 180.3,39.7 180.6,41C180.8,42.3 181.6,44 181,45C180.4,46 179.2,46.2 177,46.8C174.8,47.3 170.2,47.6 168,48.3C165.8,49 164.9,49.5 164,51C163.1,52.5 162.5,54.9 162.5,57C162.5,59.1 163.4,61.3 164,63.5C164.6,65.7 165.5,67.2 166,70C166.5,72.8 166.8,76.7 167,80C167.2,83.3 167.3,86.7 167.5,90C167.7,93.3 167.9,96.7 168,100C168.1,103.3 168.4,107 168.2,110C168,113 167.4,115.3 167,118C166.6,120.7 165.8,123.8 166,126C166.2,128.2 167,129.5 168,131C169,132.5 171.3,134.3 172,135Q188.5,136.6 205,135C205.6,134.3 207.6,132.5 208.5,131C209.4,129.5 210.5,128.2 210.6,126C210.7,123.8 209.4,120.7 209,118C208.6,115.3 208,113 208,110C208,107 208.7,103.3 209,100C209.3,96.7 209.8,93.3 210,90C210.2,86.7 210.3,83.3 210.5,80C210.7,76.7 210.9,72.8 211.3,70C211.7,67.2 212.6,65.7 213,63.5C213.4,61.3 213.7,59.1 213.5,57C213.3,54.9 212.9,52.5 212,51C211.1,49.5 210,49 208,48.3C206,47.6 202,47.3 200,46.8C198,46.2 196.5,46 195.8,45C195.1,44 195.8,42.3 196,41C196.2,39.7 196.7,38.5 197,37C197.3,35.5 197.8,34.2 198,32C198.2,29.8 198,25.3 198,24Q188,22.4 178,24Z"/><path d="M165,47.8C164.4,48 162.5,48.5 161.5,49.3C160.5,50.1 159.7,51.5 159,52.6C158.3,53.7 157.8,54.6 157.4,56C157,57.4 156.6,59 156.3,61C156,63 155.6,64.7 155.6,68C155.6,71.3 156.2,76.5 156.5,81C156.8,85.5 157.1,90.2 157.3,95C157.6,99.8 157.8,105.8 158,110C158.2,114.2 158.4,117.2 158.5,120C158.6,122.8 158.5,124.8 158.6,127C158.7,129.2 158.6,130.8 159,133C159.4,135.2 160.3,137.9 161,140C161.7,142.1 162.7,144.6 163,145.5Q164.2,146.3 165.4,145.5C165.5,144.6 166.1,142.1 166.2,140C166.3,137.9 166.2,135.2 166,133C165.8,130.8 165.3,129.2 165,127C164.7,124.8 164.5,122.8 164.3,120C164.1,117.2 164.1,114.2 164,110C163.9,105.8 164,99.8 164,95C164,90.2 163.9,85.5 164.2,81C164.5,76.5 165.4,71.3 166,68C166.6,64.7 167.2,63 167.5,61C167.8,59 167.9,57.4 168,56C168.1,54.6 168.2,53.7 168.3,52.6C168.4,51.5 168.5,50.1 168.5,49.3C168.5,48.5 168.5,48 168.5,47.8Q166.8,46.6 165,47.8Z"/><path d="M208,47.3C208,47.5 207.9,48.2 208,48.8C208.1,49.4 208.2,50.1 208.3,51C208.4,51.9 208.4,52.7 208.6,54C208.8,55.3 208.9,56.5 209.2,58.8C209.5,61.1 210.2,64.3 210.6,68C211,71.7 211.4,76.5 211.8,81C212.2,85.5 212.4,90.2 212.8,95C213.2,99.8 213.8,105.8 214,110C214.2,114.2 214.2,117.2 214,120C213.8,122.8 213.3,124.8 213,127C212.7,129.2 212.2,130.8 212,133C211.8,135.2 211.6,137.9 211.6,140C211.6,142.1 211.9,144.6 212,145.5Q213,146.2 214,145.5C214.3,144.6 215.3,142.1 216,140C216.7,137.9 217.6,135.2 218,133C218.4,130.8 218.5,129.2 218.6,127C218.7,124.8 218.7,122.8 218.8,120C219,117.2 219.3,114.2 219.5,110C219.7,105.8 219.9,99.8 220,95C220.1,90.2 220.2,85.5 220.3,81C220.5,76.5 220.9,71.7 220.9,68C220.9,64.3 220.5,61.1 220.1,58.8C219.7,56.5 219.2,55.3 218.7,54C218.2,52.7 217.6,51.9 216.9,51C216.2,50.1 215.5,49.4 214.5,48.8C213.5,48.2 211.6,47.5 211,47.3Q209.5,46.2 208,47.3Z"/><path d="M166,122C166,123.3 165.6,127 165.8,130C166,133 166.8,136.7 167.3,140C167.8,143.3 168.4,146.7 169,150C169.6,153.3 170.2,156.7 170.8,160C171.4,163.3 172.1,166.7 172.6,170C173.1,173.3 173.6,177 173.8,180C174,183 174,185.3 174,188C174,190.7 173.6,193.3 173.6,196C173.6,198.7 173.6,201.3 174,204C174.4,206.7 175.3,209.7 175.8,212C176.3,214.3 176.7,215.7 177.2,218C177.7,220.3 178.5,223.5 179,226C179.5,228.5 180.1,231 180.3,233C180.6,235 180.5,236.3 180.5,238C180.5,239.7 180.5,241.3 180.2,243C179.9,244.7 179.3,246.5 178.8,248C178.3,249.5 177.6,250.7 177.2,252C176.8,253.3 176.4,254.9 176.5,256C176.6,257.1 177.8,258.3 178,258.8Q180.8,260.4 183.5,258.8C183.9,258.3 185.4,257.1 186,256C186.6,254.9 186.8,253.3 187.2,252C187.6,250.7 188.2,249.5 188.6,248C189,246.5 189.4,244.7 189.4,243C189.4,241.3 189,239.7 188.6,238C188.2,236.3 187.6,235 187.2,233C186.8,231 186.6,228.5 186.3,226C186.1,223.5 185.8,220.3 185.7,218C185.6,215.7 185.8,214.3 185.9,212C186,209.7 186.3,206.7 186.4,204C186.5,201.3 186.4,198.7 186.4,196C186.4,193.3 186.4,190.7 186.4,188C186.4,185.3 186.4,183 186.4,180C186.4,177 186.4,173.3 186.4,170C186.4,166.7 186.4,163.3 186.4,160C186.4,156.7 186.4,153.3 186.4,150C186.4,146.7 186.4,143.3 186.4,140C186.4,136.7 186.4,133 186.4,130C186.4,127 186.4,123.3 186.4,122Q176.2,120.4 166,122Z"/><path d="M190.4,122C190.4,123.3 190.4,127 190.4,130C190.4,133 190.3,136.7 190.4,140C190.5,143.3 190.9,146.7 191,150C191.1,153.3 191,156.7 191,160C191,163.3 190.8,166.7 191,170C191.2,173.3 192.1,177 192.3,180C192.5,183 192.3,185.3 192.3,188C192.3,190.7 192.3,193.3 192.3,196C192.3,198.7 192.2,201.3 192.3,204C192.5,206.7 192.9,209.7 193.2,212C193.5,214.3 194.2,215.7 194.2,218C194.2,220.3 193.7,223.5 193.4,226C193.1,228.5 192.9,231 192.6,233C192.3,235 191.8,236.3 191.4,238C191,239.7 190.7,241.3 190.2,243C189.7,244.7 189,246.5 188.6,248C188.2,249.5 187.9,250.7 187.7,252C187.5,253.3 187.1,254.9 187.3,256C187.5,257.1 188.7,257.9 189,258.3Q191.5,259.9 194,258.3C194.4,257.9 195.9,257.1 196.6,256C197.3,254.9 197.6,253.3 198,252C198.4,250.7 198.6,249.5 198.8,248C199,246.5 199.3,244.7 199.4,243C199.5,241.3 199.5,239.7 199.5,238C199.5,236.3 199.4,235 199.5,233C199.6,231 199.9,228.5 200.2,226C200.5,223.5 200.7,220.3 201.2,218C201.7,215.7 202.4,214.3 203,212C203.6,209.7 204.7,206.7 205,204C205.3,201.3 205.1,198.7 205,196C204.9,193.3 204.5,190.7 204.4,188C204.3,185.3 204.4,183 204.6,180C204.8,177 205.2,173.3 205.6,170C206,166.7 206.5,163.3 207,160C207.5,156.7 208,153.3 208.5,150C209,146.7 209.6,143.3 210,140C210.4,136.7 210.9,133 211,130C211.1,127 210.6,123.3 210.5,122Q200.4,120.4 190.4,122Z"/></clipPath>
<clipPath id="crop3"><rect x="0" y="30.6" width="230" height="250"/></clipPath>
<g clip-path="url(#crop3)">
<g filter="url(#bl08)"><path d="M178,24C178,25.3 177.9,29.8 178.2,32C178.4,34.2 179.1,35.5 179.5,37C179.9,38.5 180.3,39.7 180.6,41C180.8,42.3 181.6,44 181,45C180.4,46 179.2,46.2 177,46.8C174.8,47.3 170.2,47.6 168,48.3C165.8,49 164.9,49.5 164,51C163.1,52.5 162.5,54.9 162.5,57C162.5,59.1 163.4,61.3 164,63.5C164.6,65.7 165.5,67.2 166,70C166.5,72.8 166.8,76.7 167,80C167.2,83.3 167.3,86.7 167.5,90C167.7,93.3 167.9,96.7 168,100C168.1,103.3 168.4,107 168.2,110C168,113 167.4,115.3 167,118C166.6,120.7 165.8,123.8 166,126C166.2,128.2 167,129.5 168,131C169,132.5 171.3,134.3 172,135Q188.5,136.6 205,135C205.6,134.3 207.6,132.5 208.5,131C209.4,129.5 210.5,128.2 210.6,126C210.7,123.8 209.4,120.7 209,118C208.6,115.3 208,113 208,110C208,107 208.7,103.3 209,100C209.3,96.7 209.8,93.3 210,90C210.2,86.7 210.3,83.3 210.5,80C210.7,76.7 210.9,72.8 211.3,70C211.7,67.2 212.6,65.7 213,63.5C213.4,61.3 213.7,59.1 213.5,57C213.3,54.9 212.9,52.5 212,51C211.1,49.5 210,49 208,48.3C206,47.6 202,47.3 200,46.8C198,46.2 196.5,46 195.8,45C195.1,44 195.8,42.3 196,41C196.2,39.7 196.7,38.5 197,37C197.3,35.5 197.8,34.2 198,32C198.2,29.8 198,25.3 198,24Q188,22.4 178,24Z" fill="#e6e6e6" /><path d="M166,122C166,123.3 165.6,127 165.8,130C166,133 166.8,136.7 167.3,140C167.8,143.3 168.4,146.7 169,150C169.6,153.3 170.2,156.7 170.8,160C171.4,163.3 172.1,166.7 172.6,170C173.1,173.3 173.6,177 173.8,180C174,183 174,185.3 174,188C174,190.7 173.6,193.3 173.6,196C173.6,198.7 173.6,201.3 174,204C174.4,206.7 175.3,209.7 175.8,212C176.3,214.3 176.7,215.7 177.2,218C177.7,220.3 178.5,223.5 179,226C179.5,228.5 180.1,231 180.3,233C180.6,235 180.5,236.3 180.5,238C180.5,239.7 180.5,241.3 180.2,243C179.9,244.7 179.3,246.5 178.8,248C178.3,249.5 177.6,250.7 177.2,252C176.8,253.3 176.4,254.9 176.5,256C176.6,257.1 177.8,258.3 178,258.8Q180.8,260.4 183.5,258.8C183.9,258.3 185.4,257.1 186,256C186.6,254.9 186.8,253.3 187.2,252C187.6,250.7 188.2,249.5 188.6,248C189,246.5 189.4,244.7 189.4,243C189.4,241.3 189,239.7 188.6,238C188.2,236.3 187.6,235 187.2,233C186.8,231 186.6,228.5 186.3,226C186.1,223.5 185.8,220.3 185.7,218C185.6,215.7 185.8,214.3 185.9,212C186,209.7 186.3,206.7 186.4,204C186.5,201.3 186.4,198.7 186.4,196C186.4,193.3 186.4,190.7 186.4,188C186.4,185.3 186.4,183 186.4,180C186.4,177 186.4,173.3 186.4,170C186.4,166.7 186.4,163.3 186.4,160C186.4,156.7 186.4,153.3 186.4,150C186.4,146.7 186.4,143.3 186.4,140C186.4,136.7 186.4,133 186.4,130C186.4,127 186.4,123.3 186.4,122Q176.2,120.4 166,122Z" fill="#e6e6e6" /><path d="M190.4,122C190.4,123.3 190.4,127 190.4,130C190.4,133 190.3,136.7 190.4,140C190.5,143.3 190.9,146.7 191,150C191.1,153.3 191,156.7 191,160C191,163.3 190.8,166.7 191,170C191.2,173.3 192.1,177 192.3,180C192.5,183 192.3,185.3 192.3,188C192.3,190.7 192.3,193.3 192.3,196C192.3,198.7 192.2,201.3 192.3,204C192.5,206.7 192.9,209.7 193.2,212C193.5,214.3 194.2,215.7 194.2,218C194.2,220.3 193.7,223.5 193.4,226C193.1,228.5 192.9,231 192.6,233C192.3,235 191.8,236.3 191.4,238C191,239.7 190.7,241.3 190.2,243C189.7,244.7 189,246.5 188.6,248C188.2,249.5 187.9,250.7 187.7,252C187.5,253.3 187.1,254.9 187.3,256C187.5,257.1 188.7,257.9 189,258.3Q191.5,259.9 194,258.3C194.4,257.9 195.9,257.1 196.6,256C197.3,254.9 197.6,253.3 198,252C198.4,250.7 198.6,249.5 198.8,248C199,246.5 199.3,244.7 199.4,243C199.5,241.3 199.5,239.7 199.5,238C199.5,236.3 199.4,235 199.5,233C199.6,231 199.9,228.5 200.2,226C200.5,223.5 200.7,220.3 201.2,218C201.7,215.7 202.4,214.3 203,212C203.6,209.7 204.7,206.7 205,204C205.3,201.3 205.1,198.7 205,196C204.9,193.3 204.5,190.7 204.4,188C204.3,185.3 204.4,183 204.6,180C204.8,177 205.2,173.3 205.6,170C206,166.7 206.5,163.3 207,160C207.5,156.7 208,153.3 208.5,150C209,146.7 209.6,143.3 210,140C210.4,136.7 210.9,133 211,130C211.1,127 210.6,123.3 210.5,122Q200.4,120.4 190.4,122Z" fill="#e6e6e6" /></g>
<g filter="url(#bl1)"><path d="M165,47.8C164.4,48 162.5,48.5 161.5,49.3C160.5,50.1 159.7,51.5 159,52.6C158.3,53.7 157.8,54.6 157.4,56C157,57.4 156.6,59 156.3,61C156,63 155.6,64.7 155.6,68C155.6,71.3 156.2,76.5 156.5,81C156.8,85.5 157.1,90.2 157.3,95C157.6,99.8 157.8,105.8 158,110C158.2,114.2 158.4,117.2 158.5,120C158.6,122.8 158.5,124.8 158.6,127C158.7,129.2 158.6,130.8 159,133C159.4,135.2 160.3,137.9 161,140C161.7,142.1 162.7,144.6 163,145.5Q164.2,146.3 165.4,145.5C165.5,144.6 166.1,142.1 166.2,140C166.3,137.9 166.2,135.2 166,133C165.8,130.8 165.3,129.2 165,127C164.7,124.8 164.5,122.8 164.3,120C164.1,117.2 164.1,114.2 164,110C163.9,105.8 164,99.8 164,95C164,90.2 163.9,85.5 164.2,81C164.5,76.5 165.4,71.3 166,68C166.6,64.7 167.2,63 167.5,61C167.8,59 167.9,57.4 168,56C168.1,54.6 168.2,53.7 168.3,52.6C168.4,51.5 168.5,50.1 168.5,49.3C168.5,48.5 168.5,48 168.5,47.8Q166.8,46.6 165,47.8Z" fill="#e6e6e6" /><path d="M208,47.3C208,47.5 207.9,48.2 208,48.8C208.1,49.4 208.2,50.1 208.3,51C208.4,51.9 208.4,52.7 208.6,54C208.8,55.3 208.9,56.5 209.2,58.8C209.5,61.1 210.2,64.3 210.6,68C211,71.7 211.4,76.5 211.8,81C212.2,85.5 212.4,90.2 212.8,95C213.2,99.8 213.8,105.8 214,110C214.2,114.2 214.2,117.2 214,120C213.8,122.8 213.3,124.8 213,127C212.7,129.2 212.2,130.8 212,133C211.8,135.2 211.6,137.9 211.6,140C211.6,142.1 211.9,144.6 212,145.5Q213,146.2 214,145.5C214.3,144.6 215.3,142.1 216,140C216.7,137.9 217.6,135.2 218,133C218.4,130.8 218.5,129.2 218.6,127C218.7,124.8 218.7,122.8 218.8,120C219,117.2 219.3,114.2 219.5,110C219.7,105.8 219.9,99.8 220,95C220.1,90.2 220.2,85.5 220.3,81C220.5,76.5 220.9,71.7 220.9,68C220.9,64.3 220.5,61.1 220.1,58.8C219.7,56.5 219.2,55.3 218.7,54C218.2,52.7 217.6,51.9 216.9,51C216.2,50.1 215.5,49.4 214.5,48.8C213.5,48.2 211.6,47.5 211,47.3Q209.5,46.2 208,47.3Z" fill="#e6e6e6" /></g>
<g filter="url(#ero)"><path d="M165,47.8C164.4,48 162.5,48.5 161.5,49.3C160.5,50.1 159.7,51.5 159,52.6C158.3,53.7 157.8,54.6 157.4,56C157,57.4 156.6,59 156.3,61C156,63 155.6,64.7 155.6,68C155.6,71.3 156.2,76.5 156.5,81C156.8,85.5 157.1,90.2 157.3,95C157.6,99.8 157.8,105.8 158,110C158.2,114.2 158.4,117.2 158.5,120C158.6,122.8 158.5,124.8 158.6,127C158.7,129.2 158.6,130.8 159,133C159.4,135.2 160.3,137.9 161,140C161.7,142.1 162.7,144.6 163,145.5Q164.2,146.3 165.4,145.5C165.5,144.6 166.1,142.1 166.2,140C166.3,137.9 166.2,135.2 166,133C165.8,130.8 165.3,129.2 165,127C164.7,124.8 164.5,122.8 164.3,120C164.1,117.2 164.1,114.2 164,110C163.9,105.8 164,99.8 164,95C164,90.2 163.9,85.5 164.2,81C164.5,76.5 165.4,71.3 166,68C166.6,64.7 167.2,63 167.5,61C167.8,59 167.9,57.4 168,56C168.1,54.6 168.2,53.7 168.3,52.6C168.4,51.5 168.5,50.1 168.5,49.3C168.5,48.5 168.5,48 168.5,47.8Q166.8,46.6 165,47.8Z" fill="#dcdcdc" /><path d="M208,47.3C208,47.5 207.9,48.2 208,48.8C208.1,49.4 208.2,50.1 208.3,51C208.4,51.9 208.4,52.7 208.6,54C208.8,55.3 208.9,56.5 209.2,58.8C209.5,61.1 210.2,64.3 210.6,68C211,71.7 211.4,76.5 211.8,81C212.2,85.5 212.4,90.2 212.8,95C213.2,99.8 213.8,105.8 214,110C214.2,114.2 214.2,117.2 214,120C213.8,122.8 213.3,124.8 213,127C212.7,129.2 212.2,130.8 212,133C211.8,135.2 211.6,137.9 211.6,140C211.6,142.1 211.9,144.6 212,145.5Q213,146.2 214,145.5C214.3,144.6 215.3,142.1 216,140C216.7,137.9 217.6,135.2 218,133C218.4,130.8 218.5,129.2 218.6,127C218.7,124.8 218.7,122.8 218.8,120C219,117.2 219.3,114.2 219.5,110C219.7,105.8 219.9,99.8 220,95C220.1,90.2 220.2,85.5 220.3,81C220.5,76.5 220.9,71.7 220.9,68C220.9,64.3 220.5,61.1 220.1,58.8C219.7,56.5 219.2,55.3 218.7,54C218.2,52.7 217.6,51.9 216.9,51C216.2,50.1 215.5,49.4 214.5,48.8C213.5,48.2 211.6,47.5 211,47.3Q209.5,46.2 208,47.3Z" fill="#dcdcdc" /></g>
<g filter="url(#ero2)"><path d="M165,47.8C164.4,48 162.5,48.5 161.5,49.3C160.5,50.1 159.7,51.5 159,52.6C158.3,53.7 157.8,54.6 157.4,56C157,57.4 156.6,59 156.3,61C156,63 155.6,64.7 155.6,68C155.6,71.3 156.2,76.5 156.5,81C156.8,85.5 157.1,90.2 157.3,95C157.6,99.8 157.8,105.8 158,110C158.2,114.2 158.4,117.2 158.5,120C158.6,122.8 158.5,124.8 158.6,127C158.7,129.2 158.6,130.8 159,133C159.4,135.2 160.3,137.9 161,140C161.7,142.1 162.7,144.6 163,145.5Q164.2,146.3 165.4,145.5C165.5,144.6 166.1,142.1 166.2,140C166.3,137.9 166.2,135.2 166,133C165.8,130.8 165.3,129.2 165,127C164.7,124.8 164.5,122.8 164.3,120C164.1,117.2 164.1,114.2 164,110C163.9,105.8 164,99.8 164,95C164,90.2 163.9,85.5 164.2,81C164.5,76.5 165.4,71.3 166,68C166.6,64.7 167.2,63 167.5,61C167.8,59 167.9,57.4 168,56C168.1,54.6 168.2,53.7 168.3,52.6C168.4,51.5 168.5,50.1 168.5,49.3C168.5,48.5 168.5,48 168.5,47.8Q166.8,46.6 165,47.8Z" fill="#d2d2d2" /><path d="M208,47.3C208,47.5 207.9,48.2 208,48.8C208.1,49.4 208.2,50.1 208.3,51C208.4,51.9 208.4,52.7 208.6,54C208.8,55.3 208.9,56.5 209.2,58.8C209.5,61.1 210.2,64.3 210.6,68C211,71.7 211.4,76.5 211.8,81C212.2,85.5 212.4,90.2 212.8,95C213.2,99.8 213.8,105.8 214,110C214.2,114.2 214.2,117.2 214,120C213.8,122.8 213.3,124.8 213,127C212.7,129.2 212.2,130.8 212,133C211.8,135.2 211.6,137.9 211.6,140C211.6,142.1 211.9,144.6 212,145.5Q213,146.2 214,145.5C214.3,144.6 215.3,142.1 216,140C216.7,137.9 217.6,135.2 218,133C218.4,130.8 218.5,129.2 218.6,127C218.7,124.8 218.7,122.8 218.8,120C219,117.2 219.3,114.2 219.5,110C219.7,105.8 219.9,99.8 220,95C220.1,90.2 220.2,85.5 220.3,81C220.5,76.5 220.9,71.7 220.9,68C220.9,64.3 220.5,61.1 220.1,58.8C219.7,56.5 219.2,55.3 218.7,54C218.2,52.7 217.6,51.9 216.9,51C216.2,50.1 215.5,49.4 214.5,48.8C213.5,48.2 211.6,47.5 211,47.3Q209.5,46.2 208,47.3Z" fill="#d2d2d2" /></g>
<g mask="url(#armmask)"><g filter="url(#bl06)" fill="none" stroke="#bcbcbc" stroke-width="0.8"><path d="M165,47.8C164.4,48 162.5,48.5 161.5,49.3C160.5,50.1 159.7,51.5 159,52.6C158.3,53.7 157.8,54.6 157.4,56C157,57.4 156.6,59 156.3,61C156,63 155.6,64.7 155.6,68C155.6,71.3 156.2,76.5 156.5,81C156.8,85.5 157.1,90.2 157.3,95C157.6,99.8 157.8,105.8 158,110C158.2,114.2 158.4,117.2 158.5,120C158.6,122.8 158.5,124.8 158.6,127C158.7,129.2 158.6,130.8 159,133C159.4,135.2 160.3,137.9 161,140C161.7,142.1 162.7,144.6 163,145.5Q164.2,146.3 165.4,145.5C165.5,144.6 166.1,142.1 166.2,140C166.3,137.9 166.2,135.2 166,133C165.8,130.8 165.3,129.2 165,127C164.7,124.8 164.5,122.8 164.3,120C164.1,117.2 164.1,114.2 164,110C163.9,105.8 164,99.8 164,95C164,90.2 163.9,85.5 164.2,81C164.5,76.5 165.4,71.3 166,68C166.6,64.7 167.2,63 167.5,61C167.8,59 167.9,57.4 168,56C168.1,54.6 168.2,53.7 168.3,52.6C168.4,51.5 168.5,50.1 168.5,49.3C168.5,48.5 168.5,48 168.5,47.8Q166.8,46.6 165,47.8Z"/><path d="M208,47.3C208,47.5 207.9,48.2 208,48.8C208.1,49.4 208.2,50.1 208.3,51C208.4,51.9 208.4,52.7 208.6,54C208.8,55.3 208.9,56.5 209.2,58.8C209.5,61.1 210.2,64.3 210.6,68C211,71.7 211.4,76.5 211.8,81C212.2,85.5 212.4,90.2 212.8,95C213.2,99.8 213.8,105.8 214,110C214.2,114.2 214.2,117.2 214,120C213.8,122.8 213.3,124.8 213,127C212.7,129.2 212.2,130.8 212,133C211.8,135.2 211.6,137.9 211.6,140C211.6,142.1 211.9,144.6 212,145.5Q213,146.2 214,145.5C214.3,144.6 215.3,142.1 216,140C216.7,137.9 217.6,135.2 218,133C218.4,130.8 218.5,129.2 218.6,127C218.7,124.8 218.7,122.8 218.8,120C219,117.2 219.3,114.2 219.5,110C219.7,105.8 219.9,99.8 220,95C220.1,90.2 220.2,85.5 220.3,81C220.5,76.5 220.9,71.7 220.9,68C220.9,64.3 220.5,61.1 220.1,58.8C219.7,56.5 219.2,55.3 218.7,54C218.2,52.7 217.6,51.9 216.9,51C216.2,50.1 215.5,49.4 214.5,48.8C213.5,48.2 211.6,47.5 211,47.3Q209.5,46.2 208,47.3Z"/></g></g>
<g filter="url(#ero)"><path d="M178,24C178,25.3 177.9,29.8 178.2,32C178.4,34.2 179.1,35.5 179.5,37C179.9,38.5 180.3,39.7 180.6,41C180.8,42.3 181.6,44 181,45C180.4,46 179.2,46.2 177,46.8C174.8,47.3 170.2,47.6 168,48.3C165.8,49 164.9,49.5 164,51C163.1,52.5 162.5,54.9 162.5,57C162.5,59.1 163.4,61.3 164,63.5C164.6,65.7 165.5,67.2 166,70C166.5,72.8 166.8,76.7 167,80C167.2,83.3 167.3,86.7 167.5,90C167.7,93.3 167.9,96.7 168,100C168.1,103.3 168.4,107 168.2,110C168,113 167.4,115.3 167,118C166.6,120.7 165.8,123.8 166,126C166.2,128.2 167,129.5 168,131C169,132.5 171.3,134.3 172,135Q188.5,136.6 205,135C205.6,134.3 207.6,132.5 208.5,131C209.4,129.5 210.5,128.2 210.6,126C210.7,123.8 209.4,120.7 209,118C208.6,115.3 208,113 208,110C208,107 208.7,103.3 209,100C209.3,96.7 209.8,93.3 210,90C210.2,86.7 210.3,83.3 210.5,80C210.7,76.7 210.9,72.8 211.3,70C211.7,67.2 212.6,65.7 213,63.5C213.4,61.3 213.7,59.1 213.5,57C213.3,54.9 212.9,52.5 212,51C211.1,49.5 210,49 208,48.3C206,47.6 202,47.3 200,46.8C198,46.2 196.5,46 195.8,45C195.1,44 195.8,42.3 196,41C196.2,39.7 196.7,38.5 197,37C197.3,35.5 197.8,34.2 198,32C198.2,29.8 198,25.3 198,24Q188,22.4 178,24Z" fill="#d2d2d2" /><path d="M166,122C166,123.3 165.6,127 165.8,130C166,133 166.8,136.7 167.3,140C167.8,143.3 168.4,146.7 169,150C169.6,153.3 170.2,156.7 170.8,160C171.4,163.3 172.1,166.7 172.6,170C173.1,173.3 173.6,177 173.8,180C174,183 174,185.3 174,188C174,190.7 173.6,193.3 173.6,196C173.6,198.7 173.6,201.3 174,204C174.4,206.7 175.3,209.7 175.8,212C176.3,214.3 176.7,215.7 177.2,218C177.7,220.3 178.5,223.5 179,226C179.5,228.5 180.1,231 180.3,233C180.6,235 180.5,236.3 180.5,238C180.5,239.7 180.5,241.3 180.2,243C179.9,244.7 179.3,246.5 178.8,248C178.3,249.5 177.6,250.7 177.2,252C176.8,253.3 176.4,254.9 176.5,256C176.6,257.1 177.8,258.3 178,258.8Q180.8,260.4 183.5,258.8C183.9,258.3 185.4,257.1 186,256C186.6,254.9 186.8,253.3 187.2,252C187.6,250.7 188.2,249.5 188.6,248C189,246.5 189.4,244.7 189.4,243C189.4,241.3 189,239.7 188.6,238C188.2,236.3 187.6,235 187.2,233C186.8,231 186.6,228.5 186.3,226C186.1,223.5 185.8,220.3 185.7,218C185.6,215.7 185.8,214.3 185.9,212C186,209.7 186.3,206.7 186.4,204C186.5,201.3 186.4,198.7 186.4,196C186.4,193.3 186.4,190.7 186.4,188C186.4,185.3 186.4,183 186.4,180C186.4,177 186.4,173.3 186.4,170C186.4,166.7 186.4,163.3 186.4,160C186.4,156.7 186.4,153.3 186.4,150C186.4,146.7 186.4,143.3 186.4,140C186.4,136.7 186.4,133 186.4,130C186.4,127 186.4,123.3 186.4,122Q176.2,120.4 166,122Z" fill="#d2d2d2" /><path d="M190.4,122C190.4,123.3 190.4,127 190.4,130C190.4,133 190.3,136.7 190.4,140C190.5,143.3 190.9,146.7 191,150C191.1,153.3 191,156.7 191,160C191,163.3 190.8,166.7 191,170C191.2,173.3 192.1,177 192.3,180C192.5,183 192.3,185.3 192.3,188C192.3,190.7 192.3,193.3 192.3,196C192.3,198.7 192.2,201.3 192.3,204C192.5,206.7 192.9,209.7 193.2,212C193.5,214.3 194.2,215.7 194.2,218C194.2,220.3 193.7,223.5 193.4,226C193.1,228.5 192.9,231 192.6,233C192.3,235 191.8,236.3 191.4,238C191,239.7 190.7,241.3 190.2,243C189.7,244.7 189,246.5 188.6,248C188.2,249.5 187.9,250.7 187.7,252C187.5,253.3 187.1,254.9 187.3,256C187.5,257.1 188.7,257.9 189,258.3Q191.5,259.9 194,258.3C194.4,257.9 195.9,257.1 196.6,256C197.3,254.9 197.6,253.3 198,252C198.4,250.7 198.6,249.5 198.8,248C199,246.5 199.3,244.7 199.4,243C199.5,241.3 199.5,239.7 199.5,238C199.5,236.3 199.4,235 199.5,233C199.6,231 199.9,228.5 200.2,226C200.5,223.5 200.7,220.3 201.2,218C201.7,215.7 202.4,214.3 203,212C203.6,209.7 204.7,206.7 205,204C205.3,201.3 205.1,198.7 205,196C204.9,193.3 204.5,190.7 204.4,188C204.3,185.3 204.4,183 204.6,180C204.8,177 205.2,173.3 205.6,170C206,166.7 206.5,163.3 207,160C207.5,156.7 208,153.3 208.5,150C209,146.7 209.6,143.3 210,140C210.4,136.7 210.9,133 211,130C211.1,127 210.6,123.3 210.5,122Q200.4,120.4 190.4,122Z" fill="#d2d2d2" /></g>
<g filter="url(#ero2)"><path d="M178,24C178,25.3 177.9,29.8 178.2,32C178.4,34.2 179.1,35.5 179.5,37C179.9,38.5 180.3,39.7 180.6,41C180.8,42.3 181.6,44 181,45C180.4,46 179.2,46.2 177,46.8C174.8,47.3 170.2,47.6 168,48.3C165.8,49 164.9,49.5 164,51C163.1,52.5 162.5,54.9 162.5,57C162.5,59.1 163.4,61.3 164,63.5C164.6,65.7 165.5,67.2 166,70C166.5,72.8 166.8,76.7 167,80C167.2,83.3 167.3,86.7 167.5,90C167.7,93.3 167.9,96.7 168,100C168.1,103.3 168.4,107 168.2,110C168,113 167.4,115.3 167,118C166.6,120.7 165.8,123.8 166,126C166.2,128.2 167,129.5 168,131C169,132.5 171.3,134.3 172,135Q188.5,136.6 205,135C205.6,134.3 207.6,132.5 208.5,131C209.4,129.5 210.5,128.2 210.6,126C210.7,123.8 209.4,120.7 209,118C208.6,115.3 208,113 208,110C208,107 208.7,103.3 209,100C209.3,96.7 209.8,93.3 210,90C210.2,86.7 210.3,83.3 210.5,80C210.7,76.7 210.9,72.8 211.3,70C211.7,67.2 212.6,65.7 213,63.5C213.4,61.3 213.7,59.1 213.5,57C213.3,54.9 212.9,52.5 212,51C211.1,49.5 210,49 208,48.3C206,47.6 202,47.3 200,46.8C198,46.2 196.5,46 195.8,45C195.1,44 195.8,42.3 196,41C196.2,39.7 196.7,38.5 197,37C197.3,35.5 197.8,34.2 198,32C198.2,29.8 198,25.3 198,24Q188,22.4 178,24Z" fill="#c3c3c3" /><path d="M166,122C166,123.3 165.6,127 165.8,130C166,133 166.8,136.7 167.3,140C167.8,143.3 168.4,146.7 169,150C169.6,153.3 170.2,156.7 170.8,160C171.4,163.3 172.1,166.7 172.6,170C173.1,173.3 173.6,177 173.8,180C174,183 174,185.3 174,188C174,190.7 173.6,193.3 173.6,196C173.6,198.7 173.6,201.3 174,204C174.4,206.7 175.3,209.7 175.8,212C176.3,214.3 176.7,215.7 177.2,218C177.7,220.3 178.5,223.5 179,226C179.5,228.5 180.1,231 180.3,233C180.6,235 180.5,236.3 180.5,238C180.5,239.7 180.5,241.3 180.2,243C179.9,244.7 179.3,246.5 178.8,248C178.3,249.5 177.6,250.7 177.2,252C176.8,253.3 176.4,254.9 176.5,256C176.6,257.1 177.8,258.3 178,258.8Q180.8,260.4 183.5,258.8C183.9,258.3 185.4,257.1 186,256C186.6,254.9 186.8,253.3 187.2,252C187.6,250.7 188.2,249.5 188.6,248C189,246.5 189.4,244.7 189.4,243C189.4,241.3 189,239.7 188.6,238C188.2,236.3 187.6,235 187.2,233C186.8,231 186.6,228.5 186.3,226C186.1,223.5 185.8,220.3 185.7,218C185.6,215.7 185.8,214.3 185.9,212C186,209.7 186.3,206.7 186.4,204C186.5,201.3 186.4,198.7 186.4,196C186.4,193.3 186.4,190.7 186.4,188C186.4,185.3 186.4,183 186.4,180C186.4,177 186.4,173.3 186.4,170C186.4,166.7 186.4,163.3 186.4,160C186.4,156.7 186.4,153.3 186.4,150C186.4,146.7 186.4,143.3 186.4,140C186.4,136.7 186.4,133 186.4,130C186.4,127 186.4,123.3 186.4,122Q176.2,120.4 166,122Z" fill="#c3c3c3" /><path d="M190.4,122C190.4,123.3 190.4,127 190.4,130C190.4,133 190.3,136.7 190.4,140C190.5,143.3 190.9,146.7 191,150C191.1,153.3 191,156.7 191,160C191,163.3 190.8,166.7 191,170C191.2,173.3 192.1,177 192.3,180C192.5,183 192.3,185.3 192.3,188C192.3,190.7 192.3,193.3 192.3,196C192.3,198.7 192.2,201.3 192.3,204C192.5,206.7 192.9,209.7 193.2,212C193.5,214.3 194.2,215.7 194.2,218C194.2,220.3 193.7,223.5 193.4,226C193.1,228.5 192.9,231 192.6,233C192.3,235 191.8,236.3 191.4,238C191,239.7 190.7,241.3 190.2,243C189.7,244.7 189,246.5 188.6,248C188.2,249.5 187.9,250.7 187.7,252C187.5,253.3 187.1,254.9 187.3,256C187.5,257.1 188.7,257.9 189,258.3Q191.5,259.9 194,258.3C194.4,257.9 195.9,257.1 196.6,256C197.3,254.9 197.6,253.3 198,252C198.4,250.7 198.6,249.5 198.8,248C199,246.5 199.3,244.7 199.4,243C199.5,241.3 199.5,239.7 199.5,238C199.5,236.3 199.4,235 199.5,233C199.6,231 199.9,228.5 200.2,226C200.5,223.5 200.7,220.3 201.2,218C201.7,215.7 202.4,214.3 203,212C203.6,209.7 204.7,206.7 205,204C205.3,201.3 205.1,198.7 205,196C204.9,193.3 204.5,190.7 204.4,188C204.3,185.3 204.4,183 204.6,180C204.8,177 205.2,173.3 205.6,170C206,166.7 206.5,163.3 207,160C207.5,156.7 208,153.3 208.5,150C209,146.7 209.6,143.3 210,140C210.4,136.7 210.9,133 211,130C211.1,127 210.6,123.3 210.5,122Q200.4,120.4 190.4,122Z" fill="#c3c3c3" /></g>
<g mask="url(#lowmask)"><g filter="url(#bl04)" fill="none" stroke="#b4b4b4" stroke-width="0.7"><path d="M166,122C166,123.3 165.6,127 165.8,130C166,133 166.8,136.7 167.3,140C167.8,143.3 168.4,146.7 169,150C169.6,153.3 170.2,156.7 170.8,160C171.4,163.3 172.1,166.7 172.6,170C173.1,173.3 173.6,177 173.8,180C174,183 174,185.3 174,188C174,190.7 173.6,193.3 173.6,196C173.6,198.7 173.6,201.3 174,204C174.4,206.7 175.3,209.7 175.8,212C176.3,214.3 176.7,215.7 177.2,218C177.7,220.3 178.5,223.5 179,226C179.5,228.5 180.1,231 180.3,233C180.6,235 180.5,236.3 180.5,238C180.5,239.7 180.5,241.3 180.2,243C179.9,244.7 179.3,246.5 178.8,248C178.3,249.5 177.6,250.7 177.2,252C176.8,253.3 176.4,254.9 176.5,256C176.6,257.1 177.8,258.3 178,258.8Q180.8,260.4 183.5,258.8C183.9,258.3 185.4,257.1 186,256C186.6,254.9 186.8,253.3 187.2,252C187.6,250.7 188.2,249.5 188.6,248C189,246.5 189.4,244.7 189.4,243C189.4,241.3 189,239.7 188.6,238C188.2,236.3 187.6,235 187.2,233C186.8,231 186.6,228.5 186.3,226C186.1,223.5 185.8,220.3 185.7,218C185.6,215.7 185.8,214.3 185.9,212C186,209.7 186.3,206.7 186.4,204C186.5,201.3 186.4,198.7 186.4,196C186.4,193.3 186.4,190.7 186.4,188C186.4,185.3 186.4,183 186.4,180C186.4,177 186.4,173.3 186.4,170C186.4,166.7 186.4,163.3 186.4,160C186.4,156.7 186.4,153.3 186.4,150C186.4,146.7 186.4,143.3 186.4,140C186.4,136.7 186.4,133 186.4,130C186.4,127 186.4,123.3 186.4,122Q176.2,120.4 166,122Z"/><path d="M190.4,122C190.4,123.3 190.4,127 190.4,130C190.4,133 190.3,136.7 190.4,140C190.5,143.3 190.9,146.7 191,150C191.1,153.3 191,156.7 191,160C191,163.3 190.8,166.7 191,170C191.2,173.3 192.1,177 192.3,180C192.5,183 192.3,185.3 192.3,188C192.3,190.7 192.3,193.3 192.3,196C192.3,198.7 192.2,201.3 192.3,204C192.5,206.7 192.9,209.7 193.2,212C193.5,214.3 194.2,215.7 194.2,218C194.2,220.3 193.7,223.5 193.4,226C193.1,228.5 192.9,231 192.6,233C192.3,235 191.8,236.3 191.4,238C191,239.7 190.7,241.3 190.2,243C189.7,244.7 189,246.5 188.6,248C188.2,249.5 187.9,250.7 187.7,252C187.5,253.3 187.1,254.9 187.3,256C187.5,257.1 188.7,257.9 189,258.3Q191.5,259.9 194,258.3C194.4,257.9 195.9,257.1 196.6,256C197.3,254.9 197.6,253.3 198,252C198.4,250.7 198.6,249.5 198.8,248C199,246.5 199.3,244.7 199.4,243C199.5,241.3 199.5,239.7 199.5,238C199.5,236.3 199.4,235 199.5,233C199.6,231 199.9,228.5 200.2,226C200.5,223.5 200.7,220.3 201.2,218C201.7,215.7 202.4,214.3 203,212C203.6,209.7 204.7,206.7 205,204C205.3,201.3 205.1,198.7 205,196C204.9,193.3 204.5,190.7 204.4,188C204.3,185.3 204.4,183 204.6,180C204.8,177 205.2,173.3 205.6,170C206,166.7 206.5,163.3 207,160C207.5,156.7 208,153.3 208.5,150C209,146.7 209.6,143.3 210,140C210.4,136.7 210.9,133 211,130C211.1,127 210.6,123.3 210.5,122Q200.4,120.4 190.4,122Z"/></g></g>
<g filter="url(#bl1)"><path d="M178,49C176.7,50 171.6,52.2 170,55C168.4,57.8 168.5,61.8 168.3,66C168.1,70.2 168.6,75.2 168.8,80C169,84.8 169.3,90.3 169.5,95C169.7,99.7 170.1,104.2 170,108C169.9,111.8 169.2,115.2 169,118C168.8,120.8 168.3,122.7 169,125C169.7,127.3 172.3,130.8 173,132Q188.5,133.6 204,132C204.6,130.8 206.9,127.3 207.5,125C208.1,122.7 207.7,120.8 207.5,118C207.3,115.2 206.4,111.8 206.5,108C206.6,104.2 207.7,99.7 208,95C208.3,90.3 208.4,84.8 208.6,80C208.8,75.2 209.3,70.2 209,66C208.7,61.8 208.7,57.8 207,55C205.3,52.2 200.3,50 199,49Q188.5,47.4 178,49Z" fill="#c0c0c0" /><path d="M181.5,36C181.7,36.8 182.2,39.3 182.5,41C182.8,42.7 183.1,44.3 183.5,46C183.9,47.7 184.8,50.2 185,51Q188.5,52.6 192,51C192.2,50.2 192.7,47.7 193,46C193.3,44.3 193.7,42.7 194,41C194.3,39.3 194.8,36.8 195,36Q188.2,34.4 181.5,36Z" fill="#a8a8a8" /><path d="M180,48.6L172,49.4L165,50.6L161,53" stroke="#b9b9b9" stroke-width="2.2" fill="none" stroke-linecap="round" stroke-linejoin="round" /><path d="M196,48.4L204,48.6L211,49.6L215.5,52" stroke="#b9b9b9" stroke-width="2.2" fill="none" stroke-linecap="round" stroke-linejoin="round" /><ellipse cx="177.5" cy="61" rx="5.2" ry="9.5" fill="#d4d4d4"/><ellipse cx="201" cy="60" rx="5" ry="9" fill="#d4d4d4"/><path d="M186,48C186,49 186.1,52 186,54C185.9,56 185.6,58 185.5,60C185.4,62 185.2,64 185.5,66C185.8,68 186.4,69.8 187,72C187.6,74.2 188.7,77.8 189,79Q194,80.6 199,79C198.8,77.8 198.7,74.2 198,72C197.3,69.8 196,68 195,66C194,64 192.7,62 192,60C191.3,58 191.2,56 191,54C190.8,52 190.6,49 190.5,48Q188.2,46.4 186,48Z" fill="#9c9c9c" /><ellipse cx="194.5" cy="74" rx="4" ry="5" fill="#8c8c8c"/><path d="M189.5,74C189.7,72.1 190.8,71 192,70.3C193.2,69.6 195.7,69.5 197,70C198.3,70.5 199.2,72 199.6,73.5C200,75 200,77.6 199.4,79C198.8,80.4 197.4,81.6 196,82C194.6,82.4 192.1,82.8 191,81.5C189.9,80.2 189.3,75.9 189.5,74Z" fill="#8a8a8a" /><path d="M184,92C183.7,93.3 182.8,97.3 182,100C181.2,102.7 180,105.3 179.5,108C179,110.7 178.8,113.5 179,116C179.2,118.5 180.7,121.8 181,123Q187,124.6 193,123C193.3,121.8 194.2,118.5 195,116C195.8,113.5 196.6,110.7 198,108C199.4,105.3 202.7,102.7 203.5,100C204.3,97.3 203.1,93.3 203,92Q193.5,90.4 184,92Z" fill="#a3a3a3" /><path d="M180,109C180.9,107.8 182.5,106.9 184,106.6C185.5,106.3 187.4,106.8 189,107.4C190.6,108 192.6,108.7 193.4,110C194.2,111.3 194.2,113.2 194,115C193.8,116.8 193,119.1 192,120.6C191,122.1 189.3,123.6 188,124C186.7,124.4 185.2,123.7 184,123C182.8,122.3 181.5,121.1 180.6,119.6C179.7,118.1 178.9,115.8 178.8,114C178.7,112.2 179.1,110.2 180,109Z" fill="#8c8c8c" /><ellipse cx="162" cy="131" rx="2.3" ry="3.4" fill="#777"/><ellipse cx="214.3" cy="129.6" rx="2.2" ry="3.4" fill="#777"/></g>
<clipPath id="core3"><path d="M179,48C177.5,49 171.8,51 170,54C168.2,57 168.5,61.7 168.3,66C168.1,70.3 168.6,75.2 168.8,80C169,84.8 169.3,90.3 169.5,95C169.7,99.7 170.1,104.2 170,108C169.9,111.8 169.4,114.3 169,118C168.6,121.7 167.8,128 167.5,130Q188.2,131.6 209,130C208.8,128 207.9,121.7 207.5,118C207.1,114.3 206.4,111.8 206.5,108C206.6,104.2 207.7,99.7 208,95C208.3,90.3 208.4,84.8 208.6,80C208.8,75.2 209.3,70.3 209,66C208.7,61.7 208.8,57 207,54C205.2,51 199.5,49 198,48Q188.5,46.4 179,48Z"/></clipPath>
<g clip-path="url(#core3)" opacity="0.5" filter="url(#bl06)"><rect x="0" y="28" width="230" height="120" filter="url(#mott)"/></g>
<g clip-path="url(#bc3)" opacity="0.3"><rect x="0" y="28" width="230" height="235" filter="url(#grain)"/></g>
<g filter="url(#bl04)"><path d="M179,26C179.2,26.7 180.1,29.9 180.4,31C180.7,32.1 181.1,33.3 181.6,34C182.1,34.7 184.1,35.7 184.5,36Q188,37.6 191.5,36C191.9,35.7 194,34.7 194.6,34C195.2,33.3 195.5,32.1 195.8,31C196.1,29.9 196.8,26.7 197,26Q188,24.4 179,26Z" fill="#070707" /><g fill="#3a3a3a"><circle cx="186" cy="39.6" r="1.25"/><circle cx="189.6" cy="39.6" r="1.25"/></g><g fill="#3f3f3f"><circle cx="187.9" cy="46.4" r="1.35"/></g><path d="M188,48L188,58" stroke="#999" stroke-width="1.4" fill="none" stroke-linecap="round" stroke-linejoin="round" /><path d="M172.6,84C172.7,81.8 172.7,79.2 173.6,77.5C174.5,75.8 176.3,74.3 178,73.6C179.7,72.8 182.2,72.8 184,73C185.8,73.2 187.4,74 189,75C190.6,76 192.8,77.5 193.6,79C194.4,80.5 194.6,82.7 194,84C193.4,85.3 191.1,86 190,87C188.9,88 188.3,88.6 187.5,90C186.7,91.4 186.2,94.4 185,95.5C183.8,96.6 181.6,96.7 180,96.6C178.4,96.5 176.8,95.9 175.6,95C174.4,94.1 173.5,92.8 173,91C172.5,89.2 172.5,86.2 172.6,84Z" fill="#5c5c5c" /><ellipse cx="181.2" cy="94.2" rx="2.6" ry="4.6" fill="#1c1c1c" transform="rotate(-8 181.2 94.2)"/><ellipse cx="196.6" cy="90" rx="2.7" ry="5" fill="#1c1c1c" transform="rotate(8 196.6 90)"/><path d="M189.5,74C189.7,72.1 190.8,71 192,70.3C193.2,69.6 195.7,69.5 197,70C198.3,70.5 199.2,72 199.6,73.5C200,75 200,77.6 199.4,79C198.8,80.4 197.4,81.6 196,82C194.6,82.4 192.1,82.8 191,81.5C189.9,80.2 189.3,75.9 189.5,74Z" fill="#878787" /><g fill="#141414"><circle cx="179.3" cy="90.6" r="1.3"/><circle cx="181.3" cy="90" r="1.3"/><circle cx="183" cy="91.4" r="1.3"/><circle cx="179.6" cy="93.3" r="1.3"/><circle cx="181.8" cy="93.8" r="1.3"/><circle cx="183.4" cy="95.2" r="1.3"/><circle cx="180.2" cy="96.2" r="1.3"/><circle cx="182.3" cy="97.4" r="1.3"/><circle cx="181" cy="98.8" r="1.3"/></g><g fill="#141414"><circle cx="194.6" cy="86" r="1.3"/><circle cx="196.6" cy="85.4" r="1.3"/><circle cx="198.4" cy="86.6" r="1.3"/><circle cx="195" cy="88.6" r="1.3"/><circle cx="197.2" cy="89.2" r="1.3"/><circle cx="198.8" cy="90.4" r="1.3"/><circle cx="195.6" cy="91.6" r="1.3"/><circle cx="197.6" cy="92.8" r="1.3"/><circle cx="196.4" cy="94.8" r="1.3"/></g><path d="M183.6,99L184.6,104.5" stroke="#333" stroke-width="0.9" fill="none" stroke-linecap="round" stroke-linejoin="round" /><path d="M194.4,96L193.6,105.5" stroke="#333" stroke-width="0.9" fill="none" stroke-linecap="round" stroke-linejoin="round" /><path d="M212.3,51L213.2,54L213.8,57.5" stroke="#5a5a5a" stroke-width="1.5" fill="none" stroke-linecap="round" stroke-linejoin="round" /><path d="M183,125.4C183.6,124.7 186.3,124.6 188,124.6C189.7,124.6 192.3,124.8 193,125.4C193.7,126 192.8,127.7 192,128.4C191.2,129.1 189.7,129.8 188.4,129.8C187.1,129.8 185.3,129.3 184.4,128.6C183.5,127.9 182.4,126.1 183,125.4Z" fill="#060606" /><g fill="#787878"><circle cx="184.2" cy="187.8" r="1.0"/><circle cx="196.5" cy="187.8" r="1.0"/></g><path d="M176,150L179,175L181,200L183.4,230" stroke="#a9a9a9" stroke-width="0.8" fill="none" stroke-linecap="round" stroke-linejoin="round" /><path d="M203,150L199.6,175L198,200L196.4,230" stroke="#a9a9a9" stroke-width="0.8" fill="none" stroke-linecap="round" stroke-linejoin="round" /></g>
</g>
<g fill="#444"><circle cx="79.2" cy="258.4" r="0.55"/></g><g fill="#777"><circle cx="83.6" cy="267.3" r="0.4"/><circle cx="187.3" cy="268.4" r="0.4"/></g>
<text x="43.8" y="277.5" font-size="6.4" text-anchor="middle" fill="#222" textLength="37.4" lengthAdjust="spacingAndGlyphs">Pre-Treatment</text>
<text x="115.3" y="277.5" font-size="6.4" text-anchor="middle" fill="#222" textLength="23.3" lengthAdjust="spacingAndGlyphs">Day + 30</text>
<text x="188.9" y="277.5" font-size="6.4" text-anchor="middle" fill="#222" textLength="22.2" lengthAdjust="spacingAndGlyphs">Day +90</text>
<g id="chart">
<path d="M255,21.7V141.6" stroke="#4d4d4d" stroke-width="1.5" fill="none"/>
<path d="M254.3,140.8H475.4" stroke="#4d4d4d" stroke-width="1.3" fill="none"/>
<path d="M251.6,141.0H255" stroke="#4d4d4d" stroke-width="1"/>
<text x="249.3" y="143.2" font-size="6.2" text-anchor="end" fill="#222">0</text>
<path d="M251.6,117.7H255" stroke="#4d4d4d" stroke-width="1"/>
<text x="249.3" y="119.9" font-size="6.2" text-anchor="end" fill="#222">5</text>
<path d="M251.6,94.4H255" stroke="#4d4d4d" stroke-width="1"/>
<text x="249.3" y="96.6" font-size="6.2" text-anchor="end" fill="#222">10</text>
<path d="M251.6,71.1H255" stroke="#4d4d4d" stroke-width="1"/>
<text x="249.3" y="73.3" font-size="6.2" text-anchor="end" fill="#222">15</text>
<path d="M251.6,47.8H255" stroke="#4d4d4d" stroke-width="1"/>
<text x="249.3" y="50.0" font-size="6.2" text-anchor="end" fill="#222">20</text>
<path d="M251.6,24.5H255" stroke="#4d4d4d" stroke-width="1"/>
<text x="249.3" y="26.7" font-size="6.2" text-anchor="end" fill="#222">25</text>
<path d="M255.0,141V144.2" stroke="#4d4d4d" stroke-width="1"/>
<text x="255.0" y="152.3" font-size="6.2" text-anchor="middle" fill="#222">0</text>
<path d="M310.1,141V144.2" stroke="#4d4d4d" stroke-width="1"/>
<text x="310.1" y="152.3" font-size="6.2" text-anchor="middle" fill="#222">50</text>
<path d="M365.1,141V144.2" stroke="#4d4d4d" stroke-width="1"/>
<text x="365.1" y="152.3" font-size="6.2" text-anchor="middle" fill="#222">100</text>
<path d="M420.2,141V144.2" stroke="#4d4d4d" stroke-width="1"/>
<text x="420.2" y="152.3" font-size="6.2" text-anchor="middle" fill="#222">150</text>
<path d="M475.3,141V144.2" stroke="#4d4d4d" stroke-width="1"/>
<text x="475.3" y="152.3" font-size="6.2" text-anchor="middle" fill="#222">200</text>
<path d="M475.4,25.8V80.3M472.6,80.3H478.2" stroke="#4d4d4d" stroke-width="1.4" fill="none"/>
<path d="M475.4,71.5H478.4" stroke="#4d4d4d" stroke-width="1"/>
<text x="481.6" y="73.6" font-size="5.9" fill="#222">50000</text>
<path d="M475.4,62.8H478.4" stroke="#4d4d4d" stroke-width="1"/>
<text x="481.6" y="64.9" font-size="5.9" fill="#222">100000</text>
<path d="M475.4,54.2H478.4" stroke="#4d4d4d" stroke-width="1"/>
<text x="481.6" y="56.3" font-size="5.9" fill="#222">150000</text>
<path d="M475.4,45.5H478.4" stroke="#4d4d4d" stroke-width="1"/>
<text x="481.6" y="47.6" font-size="5.9" fill="#222">200000</text>
<path d="M475.4,36.8H478.4" stroke="#4d4d4d" stroke-width="1"/>
<text x="481.6" y="38.9" font-size="5.9" fill="#222">250000</text>
<path d="M475.4,28.1H478.4" stroke="#4d4d4d" stroke-width="1"/>
<text x="481.6" y="30.2" font-size="5.9" fill="#222">300000</text>
<path d="M475.4,84.5V141.4M472.6,84.5H478.2" stroke="#4d4d4d" stroke-width="1.4" fill="none"/>
<path d="M475.4,140.5H478.4" stroke="#4d4d4d" stroke-width="1"/>
<text x="481.6" y="142.6" font-size="5.9" fill="#222">0</text>
<path d="M475.4,134.4H478.4" stroke="#4d4d4d" stroke-width="1"/>
<text x="481.6" y="136.5" font-size="5.9" fill="#222">50</text>
<path d="M475.4,128.4H478.4" stroke="#4d4d4d" stroke-width="1"/>
<text x="481.6" y="130.5" font-size="5.9" fill="#222">100</text>
<path d="M475.4,122.3H478.4" stroke="#4d4d4d" stroke-width="1"/>
<text x="481.6" y="124.4" font-size="5.9" fill="#222">150</text>
<path d="M475.4,116.2H478.4" stroke="#4d4d4d" stroke-width="1"/>
<text x="481.6" y="118.3" font-size="5.9" fill="#222">200</text>
<path d="M475.4,110.2H478.4" stroke="#4d4d4d" stroke-width="1"/>
<text x="481.6" y="112.2" font-size="5.9" fill="#222">250</text>
<path d="M475.4,104.1H478.4" stroke="#4d4d4d" stroke-width="1"/>
<text x="481.6" y="106.2" font-size="5.9" fill="#222">300</text>
<path d="M475.4,98.0H478.4" stroke="#4d4d4d" stroke-width="1"/>
<text x="481.6" y="100.1" font-size="5.9" fill="#222">350</text>
<path d="M475.4,91.9H478.4" stroke="#4d4d4d" stroke-width="1"/>
<text x="481.6" y="94.0" font-size="5.9" fill="#222">400</text>
<path d="M475.4,85.9H478.4" stroke="#4d4d4d" stroke-width="1"/>
<text x="481.6" y="88.0" font-size="5.9" fill="#222">450</text>
<text transform="translate(239.0,82) rotate(-90)" font-size="7.3" text-anchor="middle" fill="#222" textLength="31" lengthAdjust="spacingAndGlyphs">WBC K/uL</text>
<text transform="translate(507.3,53) rotate(90)" font-size="7.2" text-anchor="middle" fill="#222" font-weight="bold" textLength="46" lengthAdjust="spacingAndGlyphs">Ferritin (mcg/L)</text>
<text transform="translate(495.6,113.3) rotate(90)" font-size="7.2" text-anchor="middle" fill="#222" font-weight="bold" textLength="34" lengthAdjust="spacingAndGlyphs">CRP (mg/L)</text>
<text x="365" y="161.2" font-size="7.6" text-anchor="middle" fill="#222" stroke="#222" stroke-width="0.15" textLength="56" lengthAdjust="spacingAndGlyphs">Days post infusion</text>
<path d="M254.8,80.6L257,80.2L259,79.8L260.4,78.8L261.2,66.2L262.5,43.7L263.8,27.8L265.3,30L267.1,34.4L269,50L271,63.8L272.5,66.5L274.2,69.6L276,71L277.7,71.9L279,70L280.2,67.3L281.5,65.5L282.7,64.8L283.7,66.5L284.6,69L286.3,71.8L288.1,74.2L290.4,76.2L292.7,77.7L295,78.7L297.3,79.4L299,79.7L300.8,79.8L303,78.6L305.4,77.1L307.6,75.4L309.8,73.7L312,74.5L314,75.8L316,76.8L318,77.4L319.8,77.7L321.8,78L323.8,78.3L376.4,80L449.1,80" stroke="#6fad3f" stroke-width="1.15" fill="none" stroke-linejoin="round"/>
<g fill="#6fad3f"><path d="M254.8,79.1l1.45,2.5h-2.9z"/><path d="M257,78.7l1.45,2.5h-2.9z"/><path d="M259,78.3l1.45,2.5h-2.9z"/><path d="M260.4,77.3l1.45,2.5h-2.9z"/><path d="M261.2,64.7l1.45,2.5h-2.9z"/><path d="M262.5,42.2l1.45,2.5h-2.9z"/><path d="M263.8,26.3l1.45,2.5h-2.9z"/><path d="M265.3,28.5l1.45,2.5h-2.9z"/><path d="M267.1,32.9l1.45,2.5h-2.9z"/><path d="M269,48.5l1.45,2.5h-2.9z"/><path d="M271,62.3l1.45,2.5h-2.9z"/><path d="M272.5,65l1.45,2.5h-2.9z"/><path d="M274.2,68.1l1.45,2.5h-2.9z"/><path d="M276,69.5l1.45,2.5h-2.9z"/><path d="M277.7,70.4l1.45,2.5h-2.9z"/><path d="M279,68.5l1.45,2.5h-2.9z"/><path d="M280.2,65.8l1.45,2.5h-2.9z"/><path d="M281.5,64l1.45,2.5h-2.9z"/><path d="M282.7,63.3l1.45,2.5h-2.9z"/><path d="M283.7,65l1.45,2.5h-2.9z"/><path d="M284.6,67.5l1.45,2.5h-2.9z"/><path d="M286.3,70.3l1.45,2.5h-2.9z"/><path d="M288.1,72.7l1.45,2.5h-2.9z"/><path d="M290.4,74.7l1.45,2.5h-2.9z"/><path d="M292.7,76.2l1.45,2.5h-2.9z"/><path d="M295,77.2l1.45,2.5h-2.9z"/><path d="M297.3,77.9l1.45,2.5h-2.9z"/><path d="M299,78.2l1.45,2.5h-2.9z"/><path d="M300.8,78.3l1.45,2.5h-2.9z"/><path d="M303,77.1l1.45,2.5h-2.9z"/><path d="M305.4,75.6l1.45,2.5h-2.9z"/><path d="M307.6,73.9l1.45,2.5h-2.9z"/><path d="M309.8,72.2l1.45,2.5h-2.9z"/><path d="M312,73l1.45,2.5h-2.9z"/><path d="M314,74.3l1.45,2.5h-2.9z"/><path d="M316,75.3l1.45,2.5h-2.9z"/><path d="M318,75.9l1.45,2.5h-2.9z"/><path d="M319.8,76.2l1.45,2.5h-2.9z"/><path d="M321.8,76.5l1.45,2.5h-2.9z"/><path d="M323.8,76.8l1.45,2.5h-2.9z"/><path d="M376.4,78.5l1.45,2.5h-2.9z"/><path d="M449.1,78.5l1.45,2.5h-2.9z"/></g>
<path d="M255.6,140L255.8,123.3L257,125.5L258.1,126.7L259.2,127L260,115.2L261.2,103.7L262.5,84.8L263.3,104L264.4,127.3L265.6,131.9L267.3,136.5L269,139.4L272,140.3L280,140.5L289.2,140.4L289.8,130.5L291,131.6L292.1,132.5L294.4,134.2L296.2,138.3L297.3,140.3L308.8,140.4L311,140.2L313,140.2L315,140.2L317,140.2L319,140.2L321,140.2L323.8,140.2L376,140.6L461,140.6" stroke="#e9962d" stroke-width="1.0" fill="none" stroke-linejoin="round"/>
<g fill="#e9962d"><path d="M255.6,141.4l1.35,-2.4h-2.7z"/><path d="M255.8,124.7l1.35,-2.4h-2.7z"/><path d="M257,126.9l1.35,-2.4h-2.7z"/><path d="M258.1,128.1l1.35,-2.4h-2.7z"/><path d="M259.2,128.4l1.35,-2.4h-2.7z"/><path d="M260,116.6l1.35,-2.4h-2.7z"/><path d="M261.2,105.1l1.35,-2.4h-2.7z"/><path d="M262.5,86.2l1.35,-2.4h-2.7z"/><path d="M263.3,105.4l1.35,-2.4h-2.7z"/><path d="M264.4,128.7l1.35,-2.4h-2.7z"/><path d="M265.6,133.3l1.35,-2.4h-2.7z"/><path d="M267.3,137.9l1.35,-2.4h-2.7z"/><path d="M269,140.8l1.35,-2.4h-2.7z"/><path d="M272,141.7l1.35,-2.4h-2.7z"/><path d="M280,141.9l1.35,-2.4h-2.7z"/><path d="M289.2,141.8l1.35,-2.4h-2.7z"/><path d="M289.8,131.9l1.35,-2.4h-2.7z"/><path d="M291,133l1.35,-2.4h-2.7z"/><path d="M292.1,133.9l1.35,-2.4h-2.7z"/><path d="M294.4,135.6l1.35,-2.4h-2.7z"/><path d="M296.2,139.7l1.35,-2.4h-2.7z"/><path d="M297.3,141.7l1.35,-2.4h-2.7z"/><path d="M308.8,141.8l1.35,-2.4h-2.7z"/><path d="M311,141.6l1.35,-2.4h-2.7z"/><path d="M313,141.6l1.35,-2.4h-2.7z"/><path d="M315,141.6l1.35,-2.4h-2.7z"/><path d="M317,141.6l1.35,-2.4h-2.7z"/><path d="M319,141.6l1.35,-2.4h-2.7z"/><path d="M321,141.6l1.35,-2.4h-2.7z"/><path d="M323.8,141.6l1.35,-2.4h-2.7z"/><path d="M376,142l1.35,-2.4h-2.7z"/><path d="M461,142l1.35,-2.4h-2.7z"/></g>
<path d="M254.8,140.4L256.5,140.5L258.5,140.5L260.5,140.3L262.2,139.5L263.6,134.8L264.4,104.8L265.2,96.5L265.8,118L266.3,137L267.3,140.2L269.5,140.4L272,140.4L275,140.4L277.7,140.3L280,140.3L282,140.3L284,140.3L286,140.3L288,140.3L290,140.3L292,140.3L294,140.3L296,140.3L298.5,140.3L300.8,139.8L301.9,138.3L306.5,132.5L310.2,116.3L311.2,103.7L312.3,80L312.9,66L313.5,56.3L314.2,66L315,77.7L315.7,66L316.3,58.7L316.8,70L317.2,85.2L318.7,104L319.5,111.2L321,115.8L322.7,121.5L376.4,139.7L378.5,139.9L380.5,139.7L382.5,139.7L384.5,139.6L386.5,139.5L388,139.5L449.1,140L453.4,140.2L456.7,139.3L461.2,139.3" stroke="#b21f3c" stroke-width="1.0" fill="none" stroke-linejoin="round"/>
<g fill="#b21f3c"><rect x="253.8" y="139.3" width="2.1" height="2.1"/><rect x="255.4" y="139.4" width="2.1" height="2.1"/><rect x="257.4" y="139.4" width="2.1" height="2.1"/><rect x="259.4" y="139.2" width="2.1" height="2.1"/><rect x="261.1" y="138.4" width="2.1" height="2.1"/><rect x="262.6" y="133.8" width="2.1" height="2.1"/><rect x="263.3" y="103.8" width="2.1" height="2.1"/><rect x="264.1" y="95.5" width="2.1" height="2.1"/><rect x="266.2" y="139.1" width="2.1" height="2.1"/><rect x="268.4" y="139.3" width="2.1" height="2.1"/><rect x="270.9" y="139.3" width="2.1" height="2.1"/><rect x="273.9" y="139.3" width="2.1" height="2.1"/><rect x="276.6" y="139.2" width="2.1" height="2.1"/><rect x="278.9" y="139.2" width="2.1" height="2.1"/><rect x="280.9" y="139.2" width="2.1" height="2.1"/><rect x="282.9" y="139.2" width="2.1" height="2.1"/><rect x="284.9" y="139.2" width="2.1" height="2.1"/><rect x="286.9" y="139.2" width="2.1" height="2.1"/><rect x="288.9" y="139.2" width="2.1" height="2.1"/><rect x="290.9" y="139.2" width="2.1" height="2.1"/><rect x="292.9" y="139.2" width="2.1" height="2.1"/><rect x="294.9" y="139.2" width="2.1" height="2.1"/><rect x="297.4" y="139.2" width="2.1" height="2.1"/><rect x="299.8" y="138.8" width="2.1" height="2.1"/><rect x="300.8" y="137.2" width="2.1" height="2.1"/><rect x="305.4" y="131.4" width="2.1" height="2.1"/><rect x="309.1" y="115.2" width="2.1" height="2.1"/><rect x="310.1" y="102.7" width="2.1" height="2.1"/><rect x="311.2" y="79" width="2.1" height="2.1"/><rect x="311.8" y="65" width="2.1" height="2.1"/><rect x="312.4" y="55.2" width="2.1" height="2.1"/><rect x="313.1" y="65" width="2.1" height="2.1"/><rect x="313.9" y="76.7" width="2.1" height="2.1"/><rect x="314.6" y="65" width="2.1" height="2.1"/><rect x="315.2" y="57.7" width="2.1" height="2.1"/><rect x="315.8" y="69" width="2.1" height="2.1"/><rect x="316.1" y="84.2" width="2.1" height="2.1"/><rect x="317.6" y="103" width="2.1" height="2.1"/><rect x="318.4" y="110.2" width="2.1" height="2.1"/><rect x="319.9" y="114.8" width="2.1" height="2.1"/><rect x="321.6" y="120.5" width="2.1" height="2.1"/><rect x="375.3" y="138.6" width="2.1" height="2.1"/><rect x="377.4" y="138.8" width="2.1" height="2.1"/><rect x="379.4" y="138.6" width="2.1" height="2.1"/><rect x="381.4" y="138.6" width="2.1" height="2.1"/><rect x="383.4" y="138.5" width="2.1" height="2.1"/><rect x="385.4" y="138.4" width="2.1" height="2.1"/><rect x="386.9" y="138.4" width="2.1" height="2.1"/><rect x="448.1" y="138.9" width="2.1" height="2.1"/><rect x="452.3" y="139.1" width="2.1" height="2.1"/><rect x="455.6" y="138.2" width="2.1" height="2.1"/><rect x="460.1" y="138.2" width="2.1" height="2.1"/></g>
<path d="M254.6,139.2L255.8,139.8L257.2,139.5L258.6,139.9L260,139.5L261.4,139.5L262.6,138.5L263.6,130.2L265,95L265.8,73.7L267.3,99.8L267.9,131L268.6,139.2L270.5,140L272.5,140.1L274.5,140.1L276.5,140L278.8,139.1L280,138.2L281.2,136.8L282.9,134.2L284.3,127.3L286.3,123.6L287.7,118.3L288.8,117.6L289.8,117.8L291,120.4L292.7,123.8L294.4,126.7L296.7,128.2L298.5,129L300.2,127.2L301.9,124.4L306.5,111.7L309.8,104.8L311.2,91.2L312.3,63.3L313.2,37.5L314,27.5L316.7,27.5L317.7,58.3L318.7,85.2L319.8,95.6L320.6,104.2L321.8,107.7L322.3,111.2L323.3,100.8L376.4,129.7L380.1,128.5L382.6,127.2L384.6,129.7L387.2,128.2L449.1,129.5L453.4,127.7L456.7,127.7L461.2,112.1" stroke="#2c4d80" stroke-width="1.0" fill="none" stroke-linejoin="round"/>
<g fill="#2c4d80"><circle cx="254.6" cy="139.2" r="1.35"/><circle cx="255.8" cy="139.8" r="1.35"/><circle cx="257.2" cy="139.5" r="1.35"/><circle cx="258.6" cy="139.9" r="1.35"/><circle cx="260" cy="139.5" r="1.35"/><circle cx="261.4" cy="139.5" r="1.35"/><circle cx="262.6" cy="138.5" r="1.35"/><circle cx="263.6" cy="130.2" r="1.35"/><circle cx="265" cy="95" r="1.35"/><circle cx="265.8" cy="73.7" r="1.35"/><circle cx="267.3" cy="99.8" r="1.35"/><circle cx="267.9" cy="131" r="1.35"/><circle cx="268.6" cy="139.2" r="1.35"/><circle cx="270.5" cy="140" r="1.35"/><circle cx="272.5" cy="140.1" r="1.35"/><circle cx="274.5" cy="140.1" r="1.35"/><circle cx="276.5" cy="140" r="1.35"/><circle cx="278.8" cy="139.1" r="1.35"/><circle cx="280" cy="138.2" r="1.35"/><circle cx="281.2" cy="136.8" r="1.35"/><circle cx="282.9" cy="134.2" r="1.35"/><circle cx="284.3" cy="127.3" r="1.35"/><circle cx="286.3" cy="123.6" r="1.35"/><circle cx="287.7" cy="118.3" r="1.35"/><circle cx="288.8" cy="117.6" r="1.35"/><circle cx="289.8" cy="117.8" r="1.35"/><circle cx="291" cy="120.4" r="1.35"/><circle cx="292.7" cy="123.8" r="1.35"/><circle cx="294.4" cy="126.7" r="1.35"/><circle cx="296.7" cy="128.2" r="1.35"/><circle cx="298.5" cy="129" r="1.35"/><circle cx="300.2" cy="127.2" r="1.35"/><circle cx="301.9" cy="124.4" r="1.35"/><circle cx="306.5" cy="111.7" r="1.35"/><circle cx="309.8" cy="104.8" r="1.35"/><circle cx="311.2" cy="91.2" r="1.35"/><circle cx="312.3" cy="63.3" r="1.35"/><circle cx="313.2" cy="37.5" r="1.35"/><circle cx="314" cy="27.5" r="1.35"/><circle cx="316.7" cy="27.5" r="1.35"/><circle cx="317.7" cy="58.3" r="1.35"/><circle cx="318.7" cy="85.2" r="1.35"/><circle cx="319.8" cy="95.6" r="1.35"/><circle cx="320.6" cy="104.2" r="1.35"/><circle cx="321.8" cy="107.7" r="1.35"/><circle cx="322.3" cy="111.2" r="1.35"/><circle cx="323.3" cy="100.8" r="1.35"/><circle cx="376.4" cy="129.7" r="1.35"/><circle cx="380.1" cy="128.5" r="1.35"/><circle cx="382.6" cy="127.2" r="1.35"/><circle cx="384.6" cy="129.7" r="1.35"/><circle cx="387.2" cy="128.2" r="1.35"/><circle cx="449.1" cy="129.5" r="1.35"/><circle cx="453.4" cy="127.7" r="1.35"/><circle cx="456.7" cy="127.7" r="1.35"/><circle cx="461.2" cy="112.1" r="1.35"/></g>
<path d="M447.6,28L454,28" stroke="#2c4d80" stroke-width="0.9" fill="none" stroke-linejoin="round"/>
<g fill="#2c4d80"></g>
<path d="M450.8,28" stroke="#2c4d80" stroke-width="0" fill="none" stroke-linejoin="round"/>
<g fill="#2c4d80"><circle cx="450.8" cy="28" r="1.35"/></g>
<text x="457.3" y="29.8" font-size="5.2" fill="#222" textLength="10.3" lengthAdjust="spacingAndGlyphs">WBC</text>
<path d="M447.6,36.7L454,36.7" stroke="#b21f3c" stroke-width="0.9" fill="none" stroke-linejoin="round"/>
<g fill="#b21f3c"></g>
<path d="M450.8,36.7" stroke="#b21f3c" stroke-width="0" fill="none" stroke-linejoin="round"/>
<g fill="#b21f3c"><rect x="449.8" y="35.6" width="2.1" height="2.1"/></g>
<text x="457.3" y="38.5" font-size="5.2" fill="#222" textLength="9.2" lengthAdjust="spacingAndGlyphs">ALC</text>
<path d="M447.6,45.3L454,45.3" stroke="#6fad3f" stroke-width="0.9" fill="none" stroke-linejoin="round"/>
<g fill="#6fad3f"></g>
<path d="M450.8,45.3" stroke="#6fad3f" stroke-width="0" fill="none" stroke-linejoin="round"/>
<g fill="#6fad3f"><path d="M450.8,43.8l1.45,2.5h-2.9z"/></g>
<text x="457.3" y="47.1" font-size="5.2" fill="#222" textLength="15.7" lengthAdjust="spacingAndGlyphs">Ferritin</text>
<path d="M447.6,54L454,54" stroke="#e9962d" stroke-width="0.9" fill="none" stroke-linejoin="round"/>
<g fill="#e9962d"></g>
<path d="M450.8,54" stroke="#e9962d" stroke-width="0" fill="none" stroke-linejoin="round"/>
<g fill="#e9962d"><path d="M450.8,55.4l1.35,-2.4h-2.7z"/></g>
<text x="457.3" y="55.8" font-size="5.2" fill="#222" textLength="8.6" lengthAdjust="spacingAndGlyphs">CRP</text>
</g>
<text x="8.1" y="15.6" font-size="11" fill="#111">A</text>
<text x="232" y="15.6" font-size="11" fill="#111">B</text>
<g id="tbl">
<rect x="254.5" y="173.7" width="125.8" height="105.7" fill="#fff"/>
<rect x="254.5" y="173.7" width="125.8" height="29.2" fill="#415c82"/>
<rect x="254.5" y="204.0" width="125.8" height="11.3" fill="#a3a6c8"/>
<text x="281.1" y="211.4" font-size="4.9" text-anchor="middle" fill="#222">8</text>
<text x="344.1" y="211.4" font-size="4.9" text-anchor="middle" fill="#222">97.8</text>
<rect x="254.5" y="216.6" width="125.8" height="11.3" fill="#cfcfdf"/>
<text x="281.1" y="224.0" font-size="4.9" text-anchor="middle" fill="#222">13</text>
<text x="344.1" y="224.0" font-size="4.9" text-anchor="middle" fill="#222">81</text>
<rect x="254.5" y="229.2" width="125.8" height="11.3" fill="#a3a6c8"/>
<text x="281.1" y="236.6" font-size="4.9" text-anchor="middle" fill="#222">20</text>
<text x="344.1" y="236.6" font-size="4.9" text-anchor="middle" fill="#222">65</text>
<rect x="254.5" y="241.8" width="125.8" height="11.3" fill="#cfcfdf"/>
<text x="281.1" y="249.2" font-size="4.9" text-anchor="middle" fill="#222">28</text>
<text x="344.1" y="249.2" font-size="4.9" text-anchor="middle" fill="#222">80</text>
<rect x="254.5" y="254.4" width="125.8" height="11.3" fill="#a3a6c8"/>
<text x="281.1" y="261.8" font-size="4.9" text-anchor="middle" fill="#222">50</text>
<text x="344.1" y="261.8" font-size="4.9" text-anchor="middle" fill="#222">88.4</text>
<rect x="254.5" y="267.0" width="125.8" height="11.3" fill="#cfcfdf"/>
<text x="281.1" y="274.4" font-size="4.9" text-anchor="middle" fill="#222">110</text>
<text x="344.1" y="274.4" font-size="4.9" text-anchor="middle" fill="#222">23.8</text>
<rect x="307.4" y="173.7" width="1.3" height="105.7" fill="#fff"/>
<rect x="254.5" y="173.7" width="125.8" height="105.7" fill="none" stroke="#26324d" stroke-width="1"/>
<text x="281.5" y="186.8" font-size="5.9" text-anchor="middle" fill="#e4eaf3" lengthAdjust="spacingAndGlyphs" textLength="35.5">Day Post CAR</text>
<text x="281.2" y="194.6" font-size="5.9" text-anchor="middle" fill="#e4eaf3" lengthAdjust="spacingAndGlyphs" textLength="37.6">T-Cell Infusion</text>
<text x="344.3" y="183.0" font-size="5.9" text-anchor="middle" fill="#e4eaf3" lengthAdjust="spacingAndGlyphs" textLength="45.4">% of T-cells in the</text>
<text x="344.3" y="190.4" font-size="5.9" text-anchor="middle" fill="#e4eaf3" lengthAdjust="spacingAndGlyphs" textLength="55.8">Peripheral Blood that</text>
<text x="344.0" y="198.0" font-size="5.9" text-anchor="middle" fill="#e4eaf3" lengthAdjust="spacingAndGlyphs" textLength="24.6">are CAR+</text>
</g>
<rect x="0" y="0" width="1.25" height="287" fill="#4a4a4a"/>
<rect x="0" y="0" width="520" height="0.95" fill="#0d0d0d"/>
<rect x="518.95" y="0" width="1.05" height="287" fill="#151515"/>
<rect x="0" y="285.65" width="520" height="1.35" fill="#111"/>
</svg>
</body></html>
